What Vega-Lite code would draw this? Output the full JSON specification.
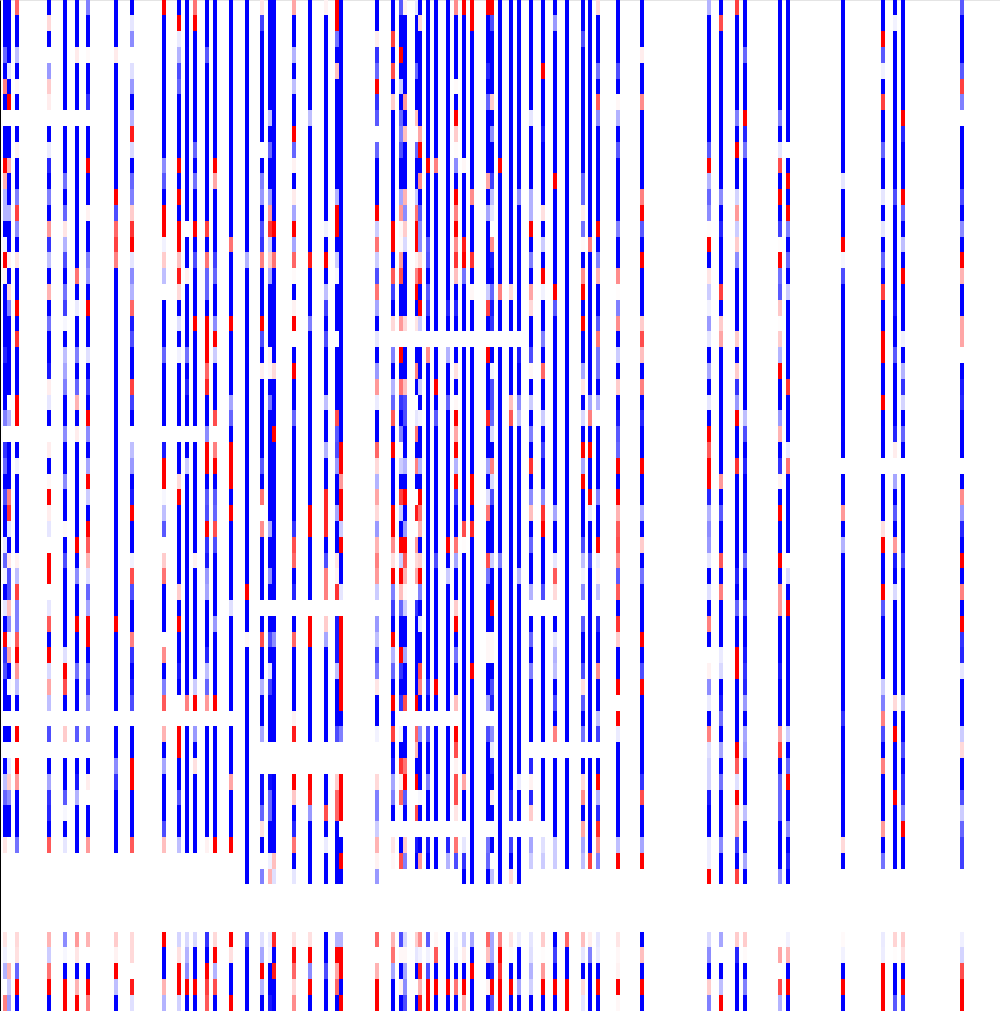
{"$schema":"https://vega.github.io/schema/vega-lite/v6.json","width":1000,"height":1011,"autosize":{"type":"fit","contains":"padding"},"padding":0,"background":"white","config":{"view":{"stroke":"#e4e4e4"}},
"data":{"values":[
{"c":1,"r":0,"e":3,"v":-1},{"c":1,"r":3,"e":4,"v":-0.6},{"c":1,"r":4,"e":5,"v":-1},{"c":1,"r":5,"e":6,"v":0.5},{"c":1,"r":6,"e":7,"v":-1},{"c":1,"r":8,"e":10,"v":-1},{"c":1,"r":10,"e":11,"v":1},{"c":1,"r":11,"e":12,"v":0.3},{"c":1,"r":12,"e":14,"v":-0.3},{"c":1,"r":14,"e":15,"v":-1},{"c":1,"r":15,"e":16,"v":-0.05},{"c":1,"r":16,"e":17,"v":1},{"c":1,"r":17,"e":18,"v":0.05},{"c":1,"r":18,"e":22,"v":-1},{"c":1,"r":22,"e":23,"v":-0.85},{"c":1,"r":23,"e":26,"v":-1},{"c":1,"r":26,"e":27,"v":-0.5},{"c":1,"r":28,"e":29,"v":-0.8},{"c":1,"r":29,"e":30,"v":-0.6},{"c":1,"r":30,"e":31,"v":-1},{"c":1,"r":31,"e":32,"v":-0.7},{"c":1,"r":32,"e":34,"v":-1},{"c":1,"r":34,"e":35,"v":-0.1},{"c":1,"r":35,"e":36,"v":-0.6},{"c":1,"r":36,"e":37,"v":-0.05},{"c":1,"r":37,"e":38,"v":-1},{"c":1,"r":38,"e":39,"v":-0.1},{"c":1,"r":39,"e":40,"v":-1},{"c":1,"r":40,"e":41,"v":1},{"c":1,"r":41,"e":42,"v":-0.8},{"c":1,"r":42,"e":43,"v":-0.7},{"c":1,"r":43,"e":45,"v":-1},{"c":1,"r":46,"e":47,"v":-1},{"c":1,"r":48,"e":49,"v":-1},{"c":1,"r":49,"e":50,"v":-0.25},{"c":1,"r":50,"e":51,"v":-0.6},{"c":1,"r":51,"e":53,"v":-1},{"c":1,"r":53,"e":54,"v":0.1},{"c":1,"r":59,"e":60,"v":0.1},{"c":1,"r":60,"e":61,"v":-0.05},{"c":1,"r":61,"e":62,"v":-0.3},{"c":1,"r":63,"e":64,"v":0.5},
{"c":2,"r":0,"e":4,"v":-1},{"c":2,"r":4,"e":5,"v":-0.1},{"c":2,"r":5,"e":6,"v":-1},{"c":2,"r":6,"e":7,"v":1},{"c":2,"r":8,"e":10,"v":-1},{"c":2,"r":10,"e":11,"v":0.3},{"c":2,"r":11,"e":13,"v":-1},{"c":2,"r":13,"e":14,"v":-0.3},{"c":2,"r":14,"e":16,"v":-1},{"c":2,"r":16,"e":17,"v":0.05},{"c":2,"r":17,"e":18,"v":-1},{"c":2,"r":18,"e":19,"v":0.15},{"c":2,"r":19,"e":20,"v":-0.5},{"c":2,"r":20,"e":25,"v":-1},{"c":2,"r":26,"e":27,"v":-0.3},{"c":2,"r":28,"e":31,"v":-1},{"c":2,"r":31,"e":32,"v":0.5},{"c":2,"r":32,"e":33,"v":0.8},{"c":2,"r":33,"e":34,"v":-0.1},{"c":2,"r":34,"e":35,"v":-1},{"c":2,"r":35,"e":36,"v":0.1},{"c":2,"r":36,"e":38,"v":-0.7},{"c":2,"r":38,"e":39,"v":0.25},{"c":2,"r":39,"e":40,"v":-0.45},{"c":2,"r":40,"e":41,"v":-0.03},{"c":2,"r":41,"e":42,"v":0.35},{"c":2,"r":42,"e":43,"v":-1},{"c":2,"r":43,"e":44,"v":-0.03},{"c":2,"r":44,"e":45,"v":-1},{"c":2,"r":46,"e":47,"v":-1},{"c":2,"r":48,"e":49,"v":-0.1},{"c":2,"r":49,"e":50,"v":0.2},{"c":2,"r":50,"e":51,"v":-0.45},{"c":2,"r":51,"e":53,"v":-1},{"c":2,"r":61,"e":62,"v":0.3},{"c":2,"r":62,"e":63,"v":-0.2},{"c":2,"r":63,"e":64,"v":-0.4},
{"c":4,"r":0,"e":1,"v":0.6},{"c":4,"r":1,"e":3,"v":-1},{"c":4,"r":3,"e":4,"v":-0.25},{"c":4,"r":4,"e":5,"v":-1},{"c":4,"r":5,"e":6,"v":0.03},{"c":4,"r":6,"e":7,"v":-1},{"c":4,"r":8,"e":9,"v":-1},{"c":4,"r":9,"e":10,"v":0.05},{"c":4,"r":10,"e":12,"v":-1},{"c":4,"r":12,"e":13,"v":-0.5},{"c":4,"r":13,"e":14,"v":0.75},{"c":4,"r":14,"e":15,"v":-0.45},{"c":4,"r":15,"e":16,"v":-1},{"c":4,"r":16,"e":17,"v":0.1},{"c":4,"r":17,"e":19,"v":-1},{"c":4,"r":19,"e":20,"v":1},{"c":4,"r":20,"e":21,"v":-1},{"c":4,"r":21,"e":22,"v":0.8},{"c":4,"r":22,"e":25,"v":-1},{"c":4,"r":25,"e":27,"v":1},{"c":4,"r":28,"e":29,"v":-1},{"c":4,"r":29,"e":30,"v":-0.05},{"c":4,"r":30,"e":35,"v":-1},{"c":4,"r":35,"e":36,"v":0.05},{"c":4,"r":36,"e":37,"v":-0.25},{"c":4,"r":37,"e":38,"v":0.75},{"c":4,"r":38,"e":40,"v":-0.5},{"c":4,"r":40,"e":41,"v":0.65},{"c":4,"r":41,"e":42,"v":1},{"c":4,"r":42,"e":43,"v":0.4},{"c":4,"r":43,"e":44,"v":-0.25},{"c":4,"r":44,"e":45,"v":-1},{"c":4,"r":46,"e":47,"v":1},{"c":4,"r":48,"e":49,"v":1},{"c":4,"r":49,"e":50,"v":0.4},{"c":4,"r":50,"e":53,"v":-1},{"c":4,"r":53,"e":54,"v":-0.55},{"c":4,"r":59,"e":60,"v":0.15},{"c":4,"r":60,"e":61,"v":0.12},{"c":4,"r":61,"e":62,"v":-0.6},{"c":4,"r":62,"e":63,"v":1},{"c":4,"r":63,"e":64,"v":-1},
{"c":12,"r":0,"e":1,"v":-1},{"c":12,"r":1,"e":2,"v":0.15},{"c":12,"r":2,"e":3,"v":-1},{"c":12,"r":4,"e":5,"v":-0.4},{"c":12,"r":5,"e":6,"v":0.2},{"c":12,"r":6,"e":7,"v":0.07},{"c":12,"r":8,"e":9,"v":-1},{"c":12,"r":9,"e":10,"v":-0.08},{"c":12,"r":10,"e":11,"v":-0.85},{"c":12,"r":11,"e":12,"v":-1},{"c":12,"r":12,"e":13,"v":-0.5},{"c":12,"r":13,"e":14,"v":-1},{"c":12,"r":14,"e":15,"v":0.4},{"c":12,"r":15,"e":16,"v":-0.8},{"c":12,"r":16,"e":17,"v":-0.25},{"c":12,"r":17,"e":18,"v":-1},{"c":12,"r":18,"e":19,"v":0.3},{"c":12,"r":19,"e":20,"v":-1},{"c":12,"r":20,"e":21,"v":-0.55},{"c":12,"r":21,"e":23,"v":-1},{"c":12,"r":23,"e":24,"v":-0.9},{"c":12,"r":24,"e":25,"v":0.07},{"c":12,"r":25,"e":26,"v":-0.1},{"c":12,"r":26,"e":27,"v":-1},{"c":12,"r":28,"e":29,"v":0.07},{"c":12,"r":29,"e":30,"v":-1},{"c":12,"r":30,"e":31,"v":0.03},{"c":12,"r":31,"e":32,"v":1},{"c":12,"r":32,"e":33,"v":0.07},{"c":12,"r":33,"e":34,"v":-0.1},{"c":12,"r":35,"e":37,"v":1},{"c":12,"r":38,"e":39,"v":-0.1},{"c":12,"r":39,"e":40,"v":0.65},{"c":12,"r":40,"e":41,"v":-1},{"c":12,"r":41,"e":42,"v":1},{"c":12,"r":42,"e":43,"v":-0.15},{"c":12,"r":43,"e":44,"v":0.35},{"c":12,"r":44,"e":45,"v":-0.25},{"c":12,"r":46,"e":47,"v":-0.7},{"c":12,"r":48,"e":49,"v":-1},{"c":12,"r":49,"e":50,"v":-0.35},{"c":12,"r":50,"e":51,"v":-0.8},{"c":12,"r":51,"e":52,"v":-0.85},{"c":12,"r":52,"e":53,"v":-1},{"c":12,"r":53,"e":54,"v":0.65},{"c":12,"r":59,"e":60,"v":0.3},{"c":12,"r":60,"e":61,"v":-0.2},{"c":12,"r":61,"e":62,"v":0.55},{"c":12,"r":62,"e":63,"v":1},{"c":12,"r":63,"e":64,"v":-1},
{"c":16,"r":0,"e":7,"v":-1},{"c":16,"r":8,"e":11,"v":-1},{"c":16,"r":11,"e":12,"v":-0.55},{"c":16,"r":12,"e":13,"v":-1},{"c":16,"r":13,"e":14,"v":-0.6},{"c":16,"r":14,"e":15,"v":0.1},{"c":16,"r":15,"e":16,"v":-0.3},{"c":16,"r":16,"e":17,"v":-0.7},{"c":16,"r":17,"e":18,"v":-1},{"c":16,"r":18,"e":19,"v":-0.55},{"c":16,"r":19,"e":20,"v":-0.75},{"c":16,"r":20,"e":21,"v":-0.03},{"c":16,"r":21,"e":22,"v":-1},{"c":16,"r":22,"e":23,"v":-0.25},{"c":16,"r":23,"e":24,"v":-0.35},{"c":16,"r":24,"e":25,"v":-0.5},{"c":16,"r":25,"e":27,"v":-1},{"c":16,"r":27,"e":28,"v":-0.45},{"c":16,"r":28,"e":30,"v":-1},{"c":16,"r":30,"e":31,"v":-0.45},{"c":16,"r":31,"e":33,"v":-1},{"c":16,"r":33,"e":34,"v":0.02},{"c":16,"r":34,"e":35,"v":-1},{"c":16,"r":35,"e":36,"v":-0.7},{"c":16,"r":36,"e":41,"v":-1},{"c":16,"r":41,"e":42,"v":-0.12},{"c":16,"r":42,"e":43,"v":1},{"c":16,"r":43,"e":44,"v":0.7},{"c":16,"r":44,"e":45,"v":-1},{"c":16,"r":46,"e":47,"v":0.2},{"c":16,"r":48,"e":50,"v":-1},{"c":16,"r":50,"e":51,"v":-0.65},{"c":16,"r":51,"e":52,"v":-0.03},{"c":16,"r":52,"e":53,"v":-1},{"c":16,"r":53,"e":54,"v":-0.1},{"c":16,"r":59,"e":60,"v":-0.45},{"c":16,"r":60,"e":61,"v":-0.03},{"c":16,"r":61,"e":62,"v":-1},{"c":16,"r":62,"e":64,"v":1},
{"c":19,"r":0,"e":3,"v":-1},{"c":19,"r":3,"e":4,"v":0.08},{"c":19,"r":4,"e":7,"v":-1},{"c":19,"r":8,"e":17,"v":-1},{"c":19,"r":17,"e":18,"v":0.55},{"c":19,"r":18,"e":19,"v":-1},{"c":19,"r":19,"e":20,"v":-0.08},{"c":19,"r":20,"e":22,"v":-1},{"c":19,"r":22,"e":23,"v":-0.5},{"c":19,"r":23,"e":24,"v":-1},{"c":19,"r":24,"e":25,"v":-0.6},{"c":19,"r":25,"e":26,"v":0.3},{"c":19,"r":26,"e":27,"v":-1},{"c":19,"r":27,"e":28,"v":0.07},{"c":19,"r":28,"e":34,"v":-1},{"c":19,"r":34,"e":35,"v":1},{"c":19,"r":35,"e":36,"v":-1},{"c":19,"r":36,"e":37,"v":-0.45},{"c":19,"r":37,"e":39,"v":-1},{"c":19,"r":39,"e":40,"v":1},{"c":19,"r":40,"e":42,"v":-1},{"c":19,"r":42,"e":43,"v":-0.55},{"c":19,"r":43,"e":45,"v":-1},{"c":19,"r":46,"e":47,"v":-0.65},{"c":19,"r":48,"e":49,"v":-1},{"c":19,"r":49,"e":50,"v":-0.9},{"c":19,"r":50,"e":51,"v":-0.3},{"c":19,"r":51,"e":54,"v":-1},{"c":19,"r":59,"e":60,"v":0.4},{"c":19,"r":60,"e":61,"v":0.1},{"c":19,"r":61,"e":62,"v":-1},{"c":19,"r":62,"e":63,"v":0.3},{"c":19,"r":63,"e":64,"v":1},
{"c":22,"r":0,"e":1,"v":-0.5},{"c":22,"r":1,"e":3,"v":-1},{"c":22,"r":3,"e":4,"v":0.02},{"c":22,"r":4,"e":6,"v":-1},{"c":22,"r":6,"e":7,"v":-0.8},{"c":22,"r":8,"e":10,"v":-1},{"c":22,"r":10,"e":11,"v":1},{"c":22,"r":11,"e":13,"v":-1},{"c":22,"r":13,"e":14,"v":0.05},{"c":22,"r":14,"e":16,"v":-1},{"c":22,"r":16,"e":17,"v":-0.5},{"c":22,"r":17,"e":18,"v":-0.4},{"c":22,"r":18,"e":19,"v":-1},{"c":22,"r":19,"e":20,"v":1},{"c":22,"r":20,"e":22,"v":-1},{"c":22,"r":22,"e":23,"v":-0.12},{"c":22,"r":23,"e":24,"v":-1},{"c":22,"r":24,"e":25,"v":-0.75},{"c":22,"r":25,"e":26,"v":-1},{"c":22,"r":26,"e":27,"v":1},{"c":22,"r":27,"e":28,"v":-0.45},{"c":22,"r":28,"e":29,"v":-1},{"c":22,"r":29,"e":30,"v":-0.35},{"c":22,"r":30,"e":31,"v":1},{"c":22,"r":31,"e":32,"v":-0.2},{"c":22,"r":32,"e":33,"v":-1},{"c":22,"r":33,"e":34,"v":1},{"c":22,"r":34,"e":35,"v":0.65},{"c":22,"r":35,"e":36,"v":0.3},{"c":22,"r":36,"e":37,"v":-0.12},{"c":22,"r":37,"e":38,"v":-0.6},{"c":22,"r":38,"e":39,"v":-0.35},{"c":22,"r":39,"e":41,"v":1},{"c":22,"r":41,"e":42,"v":-1},{"c":22,"r":42,"e":43,"v":-0.6},{"c":22,"r":43,"e":44,"v":-0.75},{"c":22,"r":44,"e":45,"v":-0.4},{"c":22,"r":46,"e":47,"v":-0.5},{"c":22,"r":48,"e":49,"v":-1},{"c":22,"r":49,"e":50,"v":0.07},{"c":22,"r":51,"e":53,"v":-1},{"c":22,"r":53,"e":54,"v":0.4},{"c":22,"r":59,"e":60,"v":0.3},{"c":22,"r":61,"e":62,"v":-1},{"c":22,"r":62,"e":63,"v":1},{"c":22,"r":63,"e":64,"v":0.5},
{"c":29,"r":0,"e":3,"v":-1},{"c":29,"r":3,"e":4,"v":0.08},{"c":29,"r":4,"e":12,"v":-1},{"c":29,"r":12,"e":13,"v":1},{"c":29,"r":13,"e":14,"v":-0.7},{"c":29,"r":14,"e":15,"v":0.6},{"c":29,"r":15,"e":16,"v":0.75},{"c":29,"r":16,"e":17,"v":0.5},{"c":29,"r":17,"e":39,"v":-1},{"c":29,"r":39,"e":40,"v":1},{"c":29,"r":40,"e":45,"v":-1},{"c":29,"r":46,"e":48,"v":-1},{"c":29,"r":48,"e":49,"v":-0.45},{"c":29,"r":49,"e":50,"v":-0.8},{"c":29,"r":50,"e":54,"v":-1},{"c":29,"r":59,"e":60,"v":0.2},{"c":29,"r":60,"e":61,"v":0.05},{"c":29,"r":61,"e":62,"v":1},{"c":29,"r":62,"e":63,"v":-0.25},{"c":29,"r":63,"e":64,"v":-1},
{"c":33,"r":0,"e":1,"v":-1},{"c":33,"r":1,"e":2,"v":-0.1},{"c":33,"r":2,"e":3,"v":-0.45},{"c":33,"r":4,"e":5,"v":-0.12},{"c":33,"r":5,"e":6,"v":-0.4},{"c":33,"r":6,"e":7,"v":-1},{"c":33,"r":7,"e":8,"v":-0.3},{"c":33,"r":8,"e":9,"v":0.9},{"c":33,"r":9,"e":10,"v":-0.15},{"c":33,"r":10,"e":11,"v":-1},{"c":33,"r":11,"e":12,"v":-0.6},{"c":33,"r":12,"e":13,"v":-0.5},{"c":33,"r":13,"e":14,"v":0.2},{"c":33,"r":14,"e":15,"v":0.8},{"c":33,"r":15,"e":16,"v":1},{"c":33,"r":16,"e":17,"v":-0.1},{"c":33,"r":17,"e":18,"v":-0.45},{"c":33,"r":18,"e":19,"v":-0.3},{"c":33,"r":19,"e":20,"v":0.6},{"c":33,"r":20,"e":21,"v":-0.9},{"c":33,"r":21,"e":22,"v":-0.7},{"c":33,"r":22,"e":24,"v":-1},{"c":33,"r":24,"e":25,"v":0.75},{"c":33,"r":25,"e":26,"v":-0.75},{"c":33,"r":26,"e":27,"v":-1},{"c":33,"r":28,"e":29,"v":-0.25},{"c":33,"r":29,"e":30,"v":-0.4},{"c":33,"r":30,"e":31,"v":-1},{"c":33,"r":31,"e":32,"v":-0.9},{"c":33,"r":32,"e":33,"v":1},{"c":33,"r":33,"e":35,"v":-1},{"c":33,"r":35,"e":36,"v":-0.05},{"c":33,"r":36,"e":37,"v":0.7},{"c":33,"r":37,"e":38,"v":-0.7},{"c":33,"r":38,"e":40,"v":-1},{"c":33,"r":40,"e":41,"v":0.5},{"c":33,"r":41,"e":42,"v":-0.8},{"c":33,"r":42,"e":43,"v":-1},{"c":33,"r":43,"e":44,"v":-0.9},{"c":33,"r":44,"e":45,"v":-0.7},{"c":33,"r":46,"e":48,"v":-1},{"c":33,"r":48,"e":50,"v":1},{"c":33,"r":50,"e":53,"v":-1},{"c":33,"r":53,"e":54,"v":0.65},{"c":33,"r":59,"e":61,"v":0.15},{"c":33,"r":62,"e":63,"v":0.9},{"c":33,"r":63,"e":64,"v":-0.12},
{"c":41,"r":0,"e":1,"v":1},{"c":41,"r":1,"e":10,"v":-1},{"c":41,"r":10,"e":11,"v":-0.45},{"c":41,"r":11,"e":12,"v":-0.65},{"c":41,"r":12,"e":13,"v":-1},{"c":41,"r":13,"e":15,"v":1},{"c":41,"r":15,"e":16,"v":-0.05},{"c":41,"r":16,"e":17,"v":0.2},{"c":41,"r":17,"e":18,"v":-0.25},{"c":41,"r":19,"e":22,"v":-1},{"c":41,"r":22,"e":23,"v":-0.6},{"c":41,"r":23,"e":27,"v":-1},{"c":41,"r":28,"e":29,"v":-0.9},{"c":41,"r":29,"e":31,"v":1},{"c":41,"r":31,"e":32,"v":-0.03},{"c":41,"r":32,"e":33,"v":-0.25},{"c":41,"r":33,"e":34,"v":-0.65},{"c":41,"r":35,"e":36,"v":0.2},{"c":41,"r":36,"e":37,"v":0.55},{"c":41,"r":37,"e":40,"v":-1},{"c":41,"r":41,"e":42,"v":0.45},{"c":41,"r":42,"e":43,"v":-1},{"c":41,"r":43,"e":44,"v":-0.5},{"c":41,"r":44,"e":45,"v":0.65},{"c":41,"r":46,"e":47,"v":0.3},{"c":41,"r":47,"e":48,"v":-1},{"c":41,"r":48,"e":49,"v":-0.35},{"c":41,"r":49,"e":52,"v":-1},{"c":41,"r":52,"e":53,"v":-0.7},{"c":41,"r":53,"e":54,"v":0.25},{"c":41,"r":59,"e":60,"v":1},{"c":41,"r":60,"e":62,"v":-1},{"c":41,"r":62,"e":63,"v":0.3},{"c":41,"r":63,"e":64,"v":-0.3},
{"c":45,"r":0,"e":1,"v":-1},{"c":45,"r":1,"e":2,"v":1},{"c":45,"r":2,"e":3,"v":-0.08},{"c":45,"r":3,"e":4,"v":-0.3},{"c":45,"r":4,"e":5,"v":-0.7},{"c":45,"r":5,"e":6,"v":-0.6},{"c":45,"r":6,"e":10,"v":-1},{"c":45,"r":10,"e":11,"v":1},{"c":45,"r":11,"e":12,"v":-1},{"c":45,"r":12,"e":13,"v":1},{"c":45,"r":13,"e":14,"v":-1},{"c":45,"r":14,"e":16,"v":1},{"c":45,"r":16,"e":17,"v":0.25},{"c":45,"r":17,"e":18,"v":0.9},{"c":45,"r":18,"e":19,"v":0.15},{"c":45,"r":19,"e":20,"v":-1},{"c":45,"r":20,"e":21,"v":-0.12},{"c":45,"r":21,"e":22,"v":-1},{"c":45,"r":22,"e":23,"v":-0.05},{"c":45,"r":23,"e":27,"v":-1},{"c":45,"r":28,"e":30,"v":-1},{"c":45,"r":30,"e":31,"v":0.15},{"c":45,"r":31,"e":32,"v":1},{"c":45,"r":32,"e":37,"v":-1},{"c":45,"r":37,"e":38,"v":0.2},{"c":45,"r":38,"e":39,"v":-1},{"c":45,"r":39,"e":40,"v":1},{"c":45,"r":40,"e":42,"v":-1},{"c":45,"r":42,"e":43,"v":-0.9},{"c":45,"r":43,"e":44,"v":-1},{"c":45,"r":46,"e":48,"v":1},{"c":45,"r":48,"e":50,"v":-1},{"c":45,"r":50,"e":51,"v":-0.65},{"c":45,"r":51,"e":53,"v":-1},{"c":45,"r":53,"e":54,"v":-0.25},{"c":45,"r":59,"e":60,"v":-0.17},{"c":45,"r":60,"e":61,"v":0.12},{"c":45,"r":61,"e":63,"v":1},{"c":45,"r":63,"e":64,"v":-0.18},
{"c":47,"r":0,"e":14,"v":-1},{"c":47,"r":15,"e":17,"v":-1},{"c":47,"r":17,"e":18,"v":0.05},{"c":47,"r":18,"e":22,"v":-1},{"c":47,"r":22,"e":23,"v":-0.55},{"c":47,"r":23,"e":24,"v":-1},{"c":47,"r":24,"e":25,"v":-0.85},{"c":47,"r":25,"e":27,"v":-1},{"c":47,"r":28,"e":29,"v":-1},{"c":47,"r":29,"e":30,"v":-0.2},{"c":47,"r":30,"e":44,"v":-1},{"c":47,"r":44,"e":45,"v":0.5},{"c":47,"r":46,"e":54,"v":-1},{"c":47,"r":59,"e":60,"v":-0.15},{"c":47,"r":60,"e":61,"v":-0.3},{"c":47,"r":61,"e":62,"v":-0.45},{"c":47,"r":62,"e":63,"v":1},{"c":47,"r":63,"e":64,"v":-1},
{"c":49,"r":0,"e":1,"v":0.55},{"c":49,"r":1,"e":2,"v":1},{"c":49,"r":2,"e":9,"v":-1},{"c":49,"r":9,"e":10,"v":-0.6},{"c":49,"r":10,"e":11,"v":-1},{"c":49,"r":11,"e":12,"v":-0.55},{"c":49,"r":12,"e":14,"v":-1},{"c":49,"r":14,"e":15,"v":1},{"c":49,"r":15,"e":16,"v":-1},{"c":49,"r":16,"e":17,"v":-0.7},{"c":49,"r":17,"e":20,"v":-1},{"c":49,"r":20,"e":21,"v":1},{"c":49,"r":21,"e":27,"v":-1},{"c":49,"r":28,"e":35,"v":-1},{"c":49,"r":35,"e":36,"v":0.05},{"c":49,"r":36,"e":43,"v":-1},{"c":49,"r":43,"e":44,"v":-0.2},{"c":49,"r":44,"e":45,"v":1},{"c":49,"r":46,"e":47,"v":-0.4},{"c":49,"r":47,"e":48,"v":-1},{"c":49,"r":48,"e":49,"v":0.12},{"c":49,"r":49,"e":54,"v":-1},{"c":49,"r":59,"e":60,"v":-0.15},{"c":49,"r":60,"e":62,"v":-1},{"c":49,"r":62,"e":63,"v":1},{"c":49,"r":63,"e":64,"v":-1},
{"c":52,"r":0,"e":3,"v":-1},{"c":52,"r":3,"e":4,"v":-0.65},{"c":52,"r":4,"e":14,"v":-1},{"c":52,"r":14,"e":15,"v":0.75},{"c":52,"r":15,"e":16,"v":-1},{"c":52,"r":16,"e":17,"v":0.55},{"c":52,"r":17,"e":19,"v":-0.6},{"c":52,"r":19,"e":20,"v":-1},{"c":52,"r":20,"e":23,"v":1},{"c":52,"r":23,"e":24,"v":0.6},{"c":52,"r":24,"e":25,"v":0.85},{"c":52,"r":25,"e":27,"v":-1},{"c":52,"r":27,"e":28,"v":-0.45},{"c":52,"r":28,"e":30,"v":1},{"c":52,"r":30,"e":31,"v":-1},{"c":52,"r":31,"e":32,"v":-0.65},{"c":52,"r":32,"e":33,"v":-0.7},{"c":52,"r":33,"e":34,"v":1},{"c":52,"r":34,"e":35,"v":-0.8},{"c":52,"r":35,"e":36,"v":-0.9},{"c":52,"r":36,"e":37,"v":-0.4},{"c":52,"r":37,"e":38,"v":-0.35},{"c":52,"r":38,"e":41,"v":-1},{"c":52,"r":41,"e":42,"v":-0.85},{"c":52,"r":42,"e":43,"v":-0.25},{"c":52,"r":43,"e":44,"v":-0.6},{"c":52,"r":44,"e":45,"v":0.4},{"c":52,"r":46,"e":53,"v":-1},{"c":52,"r":53,"e":54,"v":0.05},{"c":52,"r":59,"e":60,"v":-0.8},{"c":52,"r":60,"e":61,"v":-1},{"c":52,"r":61,"e":62,"v":1},{"c":52,"r":62,"e":63,"v":0.75},{"c":52,"r":63,"e":64,"v":0.65},
{"c":54,"r":0,"e":10,"v":-1},{"c":54,"r":10,"e":11,"v":1},{"c":54,"r":11,"e":12,"v":0.35},{"c":54,"r":12,"e":16,"v":-1},{"c":54,"r":16,"e":17,"v":-0.75},{"c":54,"r":17,"e":18,"v":-0.6},{"c":54,"r":18,"e":20,"v":-1},{"c":54,"r":20,"e":21,"v":-0.45},{"c":54,"r":21,"e":22,"v":1},{"c":54,"r":22,"e":23,"v":-0.2},{"c":54,"r":23,"e":26,"v":-1},{"c":54,"r":26,"e":27,"v":0.7},{"c":54,"r":28,"e":29,"v":0.5},{"c":54,"r":29,"e":30,"v":1},{"c":54,"r":30,"e":31,"v":-1},{"c":54,"r":31,"e":32,"v":-0.65},{"c":54,"r":32,"e":33,"v":-0.6},{"c":54,"r":33,"e":34,"v":0.7},{"c":54,"r":34,"e":35,"v":-0.7},{"c":54,"r":35,"e":39,"v":-1},{"c":54,"r":39,"e":40,"v":-0.4},{"c":54,"r":40,"e":44,"v":-1},{"c":54,"r":44,"e":45,"v":1},{"c":54,"r":46,"e":53,"v":-1},{"c":54,"r":53,"e":54,"v":1},{"c":54,"r":59,"e":60,"v":0.15},{"c":54,"r":60,"e":61,"v":1},{"c":54,"r":61,"e":62,"v":-0.3},{"c":54,"r":62,"e":63,"v":0.7},{"c":54,"r":63,"e":64,"v":-1},
{"c":58,"r":0,"e":15,"v":-1},{"c":58,"r":15,"e":16,"v":0.55},{"c":58,"r":16,"e":20,"v":-1},{"c":58,"r":20,"e":21,"v":1},{"c":58,"r":21,"e":25,"v":-1},{"c":58,"r":25,"e":26,"v":-0.35},{"c":58,"r":26,"e":27,"v":-0.6},{"c":58,"r":27,"e":28,"v":-1},{"c":58,"r":28,"e":31,"v":1},{"c":58,"r":31,"e":32,"v":-1},{"c":58,"r":32,"e":33,"v":1},{"c":58,"r":33,"e":38,"v":-1},{"c":58,"r":38,"e":39,"v":-0.12},{"c":58,"r":39,"e":45,"v":-1},{"c":58,"r":46,"e":49,"v":-1},{"c":58,"r":49,"e":50,"v":0.35},{"c":58,"r":50,"e":53,"v":-1},{"c":58,"r":53,"e":54,"v":1},{"c":58,"r":59,"e":60,"v":1},{"c":58,"r":60,"e":61,"v":0.12},{"c":58,"r":61,"e":63,"v":-1},{"c":58,"r":63,"e":64,"v":1},
{"c":62,"r":0,"e":16,"v":-1},{"c":62,"r":16,"e":17,"v":-0.3},{"c":62,"r":17,"e":37,"v":-1},{"c":62,"r":37,"e":38,"v":1},{"c":62,"r":38,"e":40,"v":-1},{"c":62,"r":40,"e":41,"v":0.03},{"c":62,"r":41,"e":56,"v":-1},{"c":62,"r":59,"e":60,"v":-0.65},{"c":62,"r":60,"e":64,"v":-1},
{"c":66,"r":0,"e":1,"v":0.1},{"c":66,"r":1,"e":2,"v":-0.75},{"c":66,"r":2,"e":9,"v":-1},{"c":66,"r":10,"e":11,"v":-1},{"c":66,"r":11,"e":12,"v":-0.5},{"c":66,"r":12,"e":13,"v":-0.4},{"c":66,"r":13,"e":14,"v":-1},{"c":66,"r":14,"e":15,"v":-0.7},{"c":66,"r":15,"e":16,"v":-0.8},{"c":66,"r":16,"e":17,"v":0.5},{"c":66,"r":17,"e":20,"v":-1},{"c":66,"r":20,"e":21,"v":1},{"c":66,"r":21,"e":22,"v":-0.7},{"c":66,"r":22,"e":23,"v":-1},{"c":66,"r":23,"e":24,"v":0.06},{"c":66,"r":24,"e":29,"v":-1},{"c":66,"r":29,"e":30,"v":-0.65},{"c":66,"r":30,"e":31,"v":-1},{"c":66,"r":31,"e":32,"v":0.55},{"c":66,"r":33,"e":34,"v":0.45},{"c":66,"r":34,"e":38,"v":-1},{"c":66,"r":39,"e":40,"v":-1},{"c":66,"r":40,"e":41,"v":0.7},{"c":66,"r":41,"e":43,"v":-1},{"c":66,"r":43,"e":44,"v":-0.3},{"c":66,"r":44,"e":46,"v":-1},{"c":66,"r":46,"e":47,"v":-0.35},{"c":66,"r":49,"e":51,"v":-0.95},{"c":66,"r":51,"e":52,"v":-0.6},{"c":66,"r":52,"e":53,"v":0.12},{"c":66,"r":53,"e":54,"v":-1},{"c":66,"r":55,"e":56,"v":-0.5},{"c":66,"r":59,"e":60,"v":-0.12},{"c":66,"r":60,"e":61,"v":-0.35},{"c":66,"r":61,"e":62,"v":1},{"c":66,"r":62,"e":63,"v":-0.3},{"c":66,"r":63,"e":64,"v":-1},
{"c":68,"r":0,"e":7,"v":-1},{"c":68,"r":7,"e":8,"v":-0.25},{"c":68,"r":8,"e":9,"v":-1},{"c":68,"r":9,"e":10,"v":-0.6},{"c":68,"r":10,"e":12,"v":-1},{"c":68,"r":12,"e":13,"v":-0.4},{"c":68,"r":13,"e":14,"v":0.4},{"c":68,"r":14,"e":15,"v":0.8},{"c":68,"r":15,"e":16,"v":-0.2},{"c":68,"r":16,"e":17,"v":0.2},{"c":68,"r":17,"e":18,"v":-0.35},{"c":68,"r":18,"e":22,"v":-1},{"c":68,"r":22,"e":23,"v":0.05},{"c":68,"r":23,"e":24,"v":0.03},{"c":68,"r":24,"e":25,"v":-1},{"c":68,"r":25,"e":26,"v":-0.55},{"c":68,"r":26,"e":33,"v":-1},{"c":68,"r":33,"e":34,"v":-0.35},{"c":68,"r":34,"e":36,"v":-1},{"c":68,"r":36,"e":37,"v":-0.45},{"c":68,"r":37,"e":38,"v":-1},{"c":68,"r":39,"e":40,"v":-1},{"c":68,"r":40,"e":41,"v":-0.7},{"c":68,"r":41,"e":42,"v":-1},{"c":68,"r":42,"e":43,"v":-0.12},{"c":68,"r":43,"e":44,"v":-0.75},{"c":68,"r":44,"e":47,"v":-1},{"c":68,"r":49,"e":50,"v":-0.95},{"c":68,"r":50,"e":52,"v":-0.6},{"c":68,"r":52,"e":54,"v":-1},{"c":68,"r":54,"e":55,"v":-0.06},{"c":68,"r":55,"e":56,"v":0.3},{"c":68,"r":59,"e":60,"v":-0.08},{"c":68,"r":60,"e":61,"v":-0.05},{"c":68,"r":61,"e":63,"v":-1},{"c":68,"r":63,"e":64,"v":-0.9},
{"c":69,"r":0,"e":14,"v":-1},{"c":69,"r":14,"e":15,"v":1},{"c":69,"r":15,"e":16,"v":-1},{"c":69,"r":16,"e":17,"v":0.55},{"c":69,"r":17,"e":23,"v":-1},{"c":69,"r":23,"e":24,"v":0.15},{"c":69,"r":24,"e":27,"v":-1},{"c":69,"r":27,"e":28,"v":1},{"c":69,"r":28,"e":38,"v":-1},{"c":69,"r":39,"e":40,"v":-1},{"c":69,"r":40,"e":41,"v":-0.45},{"c":69,"r":41,"e":47,"v":-1},{"c":69,"r":49,"e":54,"v":-1},{"c":69,"r":54,"e":55,"v":0.25},{"c":69,"r":55,"e":56,"v":-0.12},{"c":69,"r":59,"e":60,"v":0.85},{"c":69,"r":60,"e":61,"v":-1},{"c":69,"r":61,"e":62,"v":0.9},{"c":69,"r":62,"e":64,"v":-1},
{"c":74,"r":0,"e":1,"v":0.35},{"c":74,"r":1,"e":3,"v":-1},{"c":74,"r":3,"e":4,"v":-0.3},{"c":74,"r":4,"e":5,"v":-1},{"c":74,"r":5,"e":6,"v":-0.25},{"c":74,"r":6,"e":8,"v":-1},{"c":74,"r":8,"e":9,"v":1},{"c":74,"r":9,"e":10,"v":-0.6},{"c":74,"r":10,"e":11,"v":0.05},{"c":74,"r":11,"e":12,"v":-1},{"c":74,"r":12,"e":13,"v":0.08},{"c":74,"r":13,"e":14,"v":-0.35},{"c":74,"r":14,"e":15,"v":1},{"c":74,"r":15,"e":16,"v":-0.35},{"c":74,"r":16,"e":17,"v":0.6},{"c":74,"r":17,"e":18,"v":0.02},{"c":74,"r":18,"e":19,"v":-1},{"c":74,"r":19,"e":20,"v":0.05},{"c":74,"r":20,"e":21,"v":1},{"c":74,"r":22,"e":23,"v":-1},{"c":74,"r":23,"e":24,"v":1},{"c":74,"r":24,"e":26,"v":-1},{"c":74,"r":26,"e":27,"v":-0.6},{"c":74,"r":27,"e":33,"v":-1},{"c":74,"r":33,"e":34,"v":-0.8},{"c":74,"r":34,"e":35,"v":0.7},{"c":74,"r":35,"e":36,"v":0.6},{"c":74,"r":36,"e":37,"v":-1},{"c":74,"r":37,"e":38,"v":-0.85},{"c":74,"r":39,"e":40,"v":-1},{"c":74,"r":40,"e":41,"v":0.6},{"c":74,"r":41,"e":45,"v":-1},{"c":74,"r":45,"e":46,"v":0.05},{"c":74,"r":46,"e":47,"v":0.9},{"c":74,"r":49,"e":50,"v":1},{"c":74,"r":50,"e":51,"v":0.22},{"c":74,"r":51,"e":52,"v":-1},{"c":74,"r":52,"e":53,"v":-0.85},{"c":74,"r":53,"e":54,"v":0.55},{"c":74,"r":54,"e":55,"v":-1},{"c":74,"r":55,"e":56,"v":-0.1},{"c":74,"r":59,"e":60,"v":0.12},{"c":74,"r":60,"e":61,"v":0.95},{"c":74,"r":61,"e":62,"v":0.6},{"c":74,"r":62,"e":63,"v":0.15},{"c":74,"r":63,"e":64,"v":0.45},
{"c":78,"r":0,"e":7,"v":-1},{"c":78,"r":7,"e":8,"v":-0.25},{"c":78,"r":8,"e":16,"v":-1},{"c":78,"r":16,"e":17,"v":0.9},{"c":78,"r":17,"e":20,"v":-1},{"c":78,"r":20,"e":21,"v":-0.5},{"c":78,"r":21,"e":32,"v":-1},{"c":78,"r":32,"e":34,"v":1},{"c":78,"r":34,"e":38,"v":-1},{"c":78,"r":39,"e":41,"v":1},{"c":78,"r":41,"e":47,"v":-1},{"c":78,"r":49,"e":50,"v":1},{"c":78,"r":50,"e":51,"v":0.9},{"c":78,"r":51,"e":52,"v":-0.4},{"c":78,"r":52,"e":56,"v":-1},{"c":78,"r":59,"e":60,"v":0.12},{"c":78,"r":60,"e":61,"v":1},{"c":78,"r":61,"e":62,"v":-0.45},{"c":78,"r":62,"e":63,"v":1},{"c":78,"r":63,"e":64,"v":-1},
{"c":82,"r":0,"e":1,"v":0.05},{"c":82,"r":1,"e":14,"v":-1},{"c":82,"r":14,"e":15,"v":-0.05},{"c":82,"r":15,"e":16,"v":-1},{"c":82,"r":16,"e":17,"v":1},{"c":82,"r":17,"e":18,"v":-1},{"c":82,"r":18,"e":19,"v":-0.25},{"c":82,"r":19,"e":20,"v":-0.75},{"c":82,"r":20,"e":21,"v":-1},{"c":82,"r":21,"e":22,"v":-0.7},{"c":82,"r":22,"e":25,"v":-1},{"c":82,"r":25,"e":26,"v":-0.25},{"c":82,"r":26,"e":28,"v":-1},{"c":82,"r":28,"e":29,"v":-0.3},{"c":82,"r":29,"e":31,"v":-1},{"c":82,"r":31,"e":34,"v":0.85},{"c":82,"r":34,"e":35,"v":-1},{"c":82,"r":35,"e":36,"v":-0.7},{"c":82,"r":36,"e":38,"v":0.5},{"c":82,"r":39,"e":40,"v":0.2},{"c":82,"r":40,"e":41,"v":-0.35},{"c":82,"r":41,"e":47,"v":-1},{"c":82,"r":49,"e":51,"v":-1},{"c":82,"r":51,"e":52,"v":0.7},{"c":82,"r":52,"e":53,"v":-1},{"c":82,"r":53,"e":54,"v":-0.08},{"c":82,"r":54,"e":56,"v":-1},{"c":82,"r":59,"e":61,"v":-1},{"c":82,"r":61,"e":62,"v":-0.7},{"c":82,"r":62,"e":64,"v":-1},
{"c":85,"r":0,"e":2,"v":1},{"c":85,"r":2,"e":3,"v":-0.55},{"c":85,"r":3,"e":4,"v":-1},{"c":85,"r":4,"e":5,"v":0.25},{"c":85,"r":5,"e":12,"v":-1},{"c":85,"r":12,"e":13,"v":-0.3},{"c":85,"r":13,"e":15,"v":1},{"c":85,"r":15,"e":16,"v":-1},{"c":85,"r":16,"e":17,"v":-0.2},{"c":85,"r":17,"e":18,"v":-0.03},{"c":85,"r":18,"e":21,"v":-1},{"c":85,"r":22,"e":26,"v":-1},{"c":85,"r":26,"e":27,"v":0.7},{"c":85,"r":27,"e":28,"v":-0.65},{"c":85,"r":28,"e":29,"v":-0.7},{"c":85,"r":29,"e":30,"v":-0.4},{"c":85,"r":30,"e":32,"v":-1},{"c":85,"r":32,"e":33,"v":-0.35},{"c":85,"r":33,"e":35,"v":-1},{"c":85,"r":35,"e":36,"v":0.1},{"c":85,"r":36,"e":37,"v":0.05},{"c":85,"r":37,"e":38,"v":0.8},{"c":85,"r":39,"e":42,"v":-0.9},{"c":85,"r":42,"e":43,"v":-0.25},{"c":85,"r":43,"e":46,"v":-1},{"c":85,"r":46,"e":47,"v":-0.7},{"c":85,"r":49,"e":50,"v":0.2},{"c":85,"r":50,"e":52,"v":0.6},{"c":85,"r":52,"e":56,"v":-1},{"c":85,"r":59,"e":60,"v":-0.3},{"c":85,"r":60,"e":61,"v":1},{"c":85,"r":61,"e":62,"v":0.35},{"c":85,"r":62,"e":63,"v":0.6},{"c":85,"r":63,"e":64,"v":-1},
{"c":86,"r":0,"e":28,"v":-1},{"c":86,"r":28,"e":30,"v":1},{"c":86,"r":30,"e":31,"v":0.4},{"c":86,"r":31,"e":33,"v":1},{"c":86,"r":33,"e":34,"v":-0.2},{"c":86,"r":34,"e":35,"v":1},{"c":86,"r":35,"e":37,"v":-1},{"c":86,"r":37,"e":38,"v":-0.1},{"c":86,"r":39,"e":45,"v":1},{"c":86,"r":45,"e":46,"v":-1},{"c":86,"r":46,"e":47,"v":-0.5},{"c":86,"r":49,"e":52,"v":1},{"c":86,"r":53,"e":54,"v":-1},{"c":86,"r":54,"e":55,"v":1},{"c":86,"r":55,"e":56,"v":-1},{"c":86,"r":59,"e":60,"v":-0.3},{"c":86,"r":60,"e":62,"v":1},{"c":86,"r":62,"e":63,"v":-1},{"c":86,"r":63,"e":64,"v":1},
{"c":95,"r":0,"e":2,"v":-1},{"c":95,"r":2,"e":3,"v":0.07},{"c":95,"r":3,"e":4,"v":-0.8},{"c":95,"r":4,"e":5,"v":-0.6},{"c":95,"r":5,"e":6,"v":1},{"c":95,"r":6,"e":7,"v":-0.8},{"c":95,"r":7,"e":8,"v":-0.65},{"c":95,"r":9,"e":10,"v":-0.6},{"c":95,"r":10,"e":13,"v":-1},{"c":95,"r":13,"e":14,"v":1},{"c":95,"r":14,"e":15,"v":-0.2},{"c":95,"r":15,"e":16,"v":0.55},{"c":95,"r":16,"e":17,"v":-0.2},{"c":95,"r":17,"e":18,"v":-0.7},{"c":95,"r":18,"e":19,"v":0.55},{"c":95,"r":19,"e":20,"v":-0.35},{"c":95,"r":20,"e":21,"v":-1},{"c":95,"r":21,"e":22,"v":-0.1},{"c":95,"r":22,"e":23,"v":-1},{"c":95,"r":23,"e":24,"v":-0.4},{"c":95,"r":24,"e":25,"v":0.4},{"c":95,"r":25,"e":26,"v":-0.08},{"c":95,"r":26,"e":28,"v":-1},{"c":95,"r":28,"e":29,"v":0.6},{"c":95,"r":29,"e":30,"v":0.15},{"c":95,"r":30,"e":31,"v":-0.3},{"c":95,"r":31,"e":32,"v":0.35},{"c":95,"r":32,"e":33,"v":0.15},{"c":95,"r":33,"e":34,"v":-0.4},{"c":95,"r":34,"e":35,"v":0.3},{"c":95,"r":35,"e":36,"v":0.5},{"c":95,"r":36,"e":37,"v":0.4},{"c":95,"r":37,"e":38,"v":-0.2},{"c":95,"r":39,"e":40,"v":-0.4},{"c":95,"r":40,"e":41,"v":-0.25},{"c":95,"r":41,"e":42,"v":-0.75},{"c":95,"r":42,"e":43,"v":-0.5},{"c":95,"r":43,"e":44,"v":0.1},{"c":95,"r":44,"e":46,"v":-1},{"c":95,"r":46,"e":47,"v":-0.05},{"c":95,"r":49,"e":50,"v":0.15},{"c":95,"r":50,"e":52,"v":-0.5},{"c":95,"r":52,"e":53,"v":-0.2},{"c":95,"r":53,"e":54,"v":0.3},{"c":95,"r":54,"e":55,"v":0.05},{"c":95,"r":55,"e":56,"v":-0.4},{"c":95,"r":59,"e":60,"v":0.6},{"c":95,"r":61,"e":62,"v":0.3},{"c":95,"r":62,"e":64,"v":1},
{"c":99,"r":0,"e":2,"v":-1},{"c":99,"r":2,"e":3,"v":0.75},{"c":99,"r":3,"e":4,"v":-1},{"c":99,"r":4,"e":5,"v":0.7},{"c":99,"r":5,"e":6,"v":-1},{"c":99,"r":6,"e":7,"v":0.2},{"c":99,"r":7,"e":14,"v":-1},{"c":99,"r":14,"e":16,"v":1},{"c":99,"r":16,"e":17,"v":-1},{"c":99,"r":17,"e":18,"v":0.65},{"c":99,"r":18,"e":19,"v":-0.75},{"c":99,"r":19,"e":20,"v":-1},{"c":99,"r":20,"e":21,"v":0.15},{"c":99,"r":22,"e":23,"v":-0.5},{"c":99,"r":23,"e":24,"v":-1},{"c":99,"r":24,"e":25,"v":-0.3},{"c":99,"r":25,"e":26,"v":-0.6},{"c":99,"r":26,"e":27,"v":0.65},{"c":99,"r":27,"e":28,"v":-1},{"c":99,"r":28,"e":29,"v":1},{"c":99,"r":29,"e":32,"v":-1},{"c":99,"r":32,"e":34,"v":1},{"c":99,"r":34,"e":35,"v":0.45},{"c":99,"r":35,"e":36,"v":0.12},{"c":99,"r":36,"e":37,"v":1},{"c":99,"r":37,"e":38,"v":-0.5},{"c":99,"r":38,"e":39,"v":-0.75},{"c":99,"r":39,"e":40,"v":-1},{"c":99,"r":40,"e":41,"v":1},{"c":99,"r":41,"e":42,"v":-0.3},{"c":99,"r":42,"e":43,"v":-0.6},{"c":99,"r":43,"e":44,"v":-1},{"c":99,"r":44,"e":45,"v":1},{"c":99,"r":45,"e":46,"v":-1},{"c":99,"r":46,"e":47,"v":0.75},{"c":99,"r":47,"e":48,"v":-1},{"c":99,"r":48,"e":49,"v":-0.9},{"c":99,"r":49,"e":50,"v":-0.35},{"c":99,"r":50,"e":51,"v":-0.5},{"c":99,"r":51,"e":52,"v":-1},{"c":99,"r":53,"e":54,"v":0.1},{"c":99,"r":54,"e":55,"v":0.03},{"c":99,"r":59,"e":60,"v":0.3},{"c":99,"r":60,"e":61,"v":0.55},{"c":99,"r":61,"e":62,"v":-0.35},{"c":99,"r":62,"e":64,"v":-1},
{"c":101,"r":0,"e":1,"v":-0.65},{"c":101,"r":1,"e":3,"v":-1},{"c":101,"r":3,"e":4,"v":1},{"c":101,"r":4,"e":5,"v":-1},{"c":101,"r":5,"e":6,"v":-0.2},{"c":101,"r":6,"e":7,"v":-1},{"c":101,"r":7,"e":8,"v":-0.6},{"c":101,"r":8,"e":9,"v":-0.5},{"c":101,"r":9,"e":10,"v":-0.7},{"c":101,"r":10,"e":12,"v":-1},{"c":101,"r":12,"e":13,"v":-0.35},{"c":101,"r":13,"e":14,"v":0.4},{"c":101,"r":14,"e":15,"v":0.03},{"c":101,"r":15,"e":16,"v":0.02},{"c":101,"r":16,"e":17,"v":0.4},{"c":101,"r":17,"e":18,"v":0.7},{"c":101,"r":18,"e":20,"v":-1},{"c":101,"r":20,"e":21,"v":0.4},{"c":101,"r":22,"e":23,"v":1},{"c":101,"r":23,"e":24,"v":-1},{"c":101,"r":24,"e":25,"v":0.55},{"c":101,"r":25,"e":26,"v":-0.8},{"c":101,"r":26,"e":27,"v":-1},{"c":101,"r":27,"e":28,"v":-0.5},{"c":101,"r":28,"e":29,"v":0.02},{"c":101,"r":29,"e":30,"v":-0.2},{"c":101,"r":30,"e":31,"v":-1},{"c":101,"r":31,"e":32,"v":0.75},{"c":101,"r":32,"e":33,"v":-0.2},{"c":101,"r":33,"e":34,"v":-1},{"c":101,"r":34,"e":35,"v":1},{"c":101,"r":35,"e":36,"v":-0.2},{"c":101,"r":36,"e":37,"v":1},{"c":101,"r":37,"e":38,"v":0.25},{"c":101,"r":38,"e":39,"v":-0.6},{"c":101,"r":39,"e":41,"v":-1},{"c":101,"r":41,"e":42,"v":1},{"c":101,"r":42,"e":43,"v":-0.8},{"c":101,"r":43,"e":44,"v":-1},{"c":101,"r":44,"e":45,"v":-0.8},{"c":101,"r":46,"e":47,"v":-0.05},{"c":101,"r":47,"e":48,"v":-1},{"c":101,"r":48,"e":49,"v":0.8},{"c":101,"r":49,"e":50,"v":0.07},{"c":101,"r":50,"e":51,"v":0.6},{"c":101,"r":51,"e":52,"v":0.02},{"c":101,"r":53,"e":54,"v":-1},{"c":101,"r":54,"e":55,"v":0.7},{"c":101,"r":59,"e":60,"v":-0.7},{"c":101,"r":60,"e":61,"v":0.03},{"c":101,"r":61,"e":62,"v":-1},{"c":101,"r":62,"e":63,"v":0.05},{"c":101,"r":63,"e":64,"v":-1},
{"c":102,"r":0,"e":1,"v":0.05},{"c":102,"r":1,"e":6,"v":-1},{"c":102,"r":6,"e":7,"v":0.4},{"c":102,"r":7,"e":8,"v":-1},{"c":102,"r":8,"e":9,"v":0.25},{"c":102,"r":9,"e":12,"v":-1},{"c":102,"r":12,"e":13,"v":0.3},{"c":102,"r":13,"e":14,"v":-0.45},{"c":102,"r":14,"e":15,"v":0.2},{"c":102,"r":15,"e":16,"v":-0.15},{"c":102,"r":16,"e":20,"v":-1},{"c":102,"r":20,"e":21,"v":0.15},{"c":102,"r":22,"e":24,"v":-1},{"c":102,"r":24,"e":25,"v":0.25},{"c":102,"r":25,"e":27,"v":-0.7},{"c":102,"r":27,"e":29,"v":-1},{"c":102,"r":29,"e":30,"v":-0.3},{"c":102,"r":30,"e":31,"v":-1},{"c":102,"r":31,"e":32,"v":1},{"c":102,"r":32,"e":33,"v":-1},{"c":102,"r":33,"e":34,"v":-0.4},{"c":102,"r":34,"e":35,"v":1},{"c":102,"r":35,"e":36,"v":0.65},{"c":102,"r":36,"e":37,"v":0.3},{"c":102,"r":37,"e":38,"v":0.02},{"c":102,"r":38,"e":39,"v":-0.2},{"c":102,"r":39,"e":41,"v":-1},{"c":102,"r":41,"e":42,"v":-0.35},{"c":102,"r":42,"e":44,"v":-1},{"c":102,"r":44,"e":45,"v":0.7},{"c":102,"r":46,"e":48,"v":-1},{"c":102,"r":48,"e":49,"v":0.55},{"c":102,"r":49,"e":50,"v":1},{"c":102,"r":50,"e":51,"v":-0.65},{"c":102,"r":51,"e":52,"v":-1},{"c":102,"r":53,"e":54,"v":0.2},{"c":102,"r":54,"e":55,"v":-0.5},{"c":102,"r":59,"e":60,"v":-0.15},{"c":102,"r":60,"e":61,"v":0.03},{"c":102,"r":61,"e":62,"v":-0.35},{"c":102,"r":62,"e":63,"v":-0.45},{"c":102,"r":63,"e":64,"v":-0.7},
{"c":105,"r":0,"e":1,"v":-0.1},{"c":105,"r":1,"e":4,"v":-1},{"c":105,"r":4,"e":5,"v":-0.6},{"c":105,"r":5,"e":7,"v":-1},{"c":105,"r":7,"e":8,"v":0.25},{"c":105,"r":9,"e":10,"v":-0.6},{"c":105,"r":10,"e":12,"v":-1},{"c":105,"r":12,"e":13,"v":-0.2},{"c":105,"r":13,"e":14,"v":0.55},{"c":105,"r":14,"e":16,"v":1},{"c":105,"r":16,"e":17,"v":0.05},{"c":105,"r":17,"e":18,"v":0.5},{"c":105,"r":18,"e":19,"v":1},{"c":105,"r":19,"e":20,"v":-1},{"c":105,"r":20,"e":21,"v":0.1},{"c":105,"r":22,"e":23,"v":-1},{"c":105,"r":23,"e":24,"v":0.5},{"c":105,"r":24,"e":25,"v":-1},{"c":105,"r":26,"e":27,"v":-0.1},{"c":105,"r":27,"e":28,"v":0.55},{"c":105,"r":28,"e":29,"v":-1},{"c":105,"r":29,"e":30,"v":0.5},{"c":105,"r":30,"e":31,"v":-1},{"c":105,"r":32,"e":33,"v":0.9},{"c":105,"r":34,"e":35,"v":0.4},{"c":105,"r":35,"e":36,"v":0.15},{"c":105,"r":36,"e":37,"v":0.35},{"c":105,"r":38,"e":39,"v":-0.8},{"c":105,"r":39,"e":44,"v":-1},{"c":105,"r":44,"e":45,"v":1},{"c":105,"r":46,"e":47,"v":0.6},{"c":105,"r":47,"e":48,"v":0.3},{"c":105,"r":48,"e":49,"v":-1},{"c":105,"r":49,"e":50,"v":1},{"c":105,"r":51,"e":52,"v":0.7},{"c":105,"r":53,"e":54,"v":-0.9},{"c":105,"r":54,"e":55,"v":-1},{"c":105,"r":59,"e":60,"v":0.2},{"c":105,"r":60,"e":61,"v":-0.1},{"c":105,"r":61,"e":62,"v":-1},{"c":105,"r":63,"e":64,"v":-1},
{"c":106,"r":0,"e":1,"v":-1},{"c":106,"r":1,"e":2,"v":0.15},{"c":106,"r":2,"e":8,"v":-1},{"c":106,"r":8,"e":9,"v":0.35},{"c":106,"r":9,"e":10,"v":1},{"c":106,"r":10,"e":11,"v":-1},{"c":106,"r":11,"e":12,"v":0.45},{"c":106,"r":12,"e":13,"v":-1},{"c":106,"r":13,"e":14,"v":-0.65},{"c":106,"r":14,"e":16,"v":-0.45},{"c":106,"r":16,"e":17,"v":0.15},{"c":106,"r":17,"e":18,"v":0.8},{"c":106,"r":18,"e":19,"v":-1},{"c":106,"r":19,"e":20,"v":1},{"c":106,"r":20,"e":21,"v":-0.2},{"c":106,"r":22,"e":24,"v":-1},{"c":106,"r":24,"e":25,"v":-0.2},{"c":106,"r":25,"e":26,"v":-1},{"c":106,"r":26,"e":27,"v":-0.05},{"c":106,"r":27,"e":29,"v":-1},{"c":106,"r":29,"e":30,"v":-0.3},{"c":106,"r":30,"e":31,"v":-1},{"c":106,"r":31,"e":32,"v":1},{"c":106,"r":32,"e":33,"v":0.55},{"c":106,"r":33,"e":34,"v":0.3},{"c":106,"r":34,"e":35,"v":-1},{"c":106,"r":35,"e":36,"v":0.2},{"c":106,"r":36,"e":37,"v":1},{"c":106,"r":37,"e":38,"v":-0.5},{"c":106,"r":38,"e":39,"v":-1},{"c":106,"r":39,"e":40,"v":-0.1},{"c":106,"r":40,"e":42,"v":-1},{"c":106,"r":42,"e":43,"v":0.7},{"c":106,"r":43,"e":44,"v":0.5},{"c":106,"r":44,"e":45,"v":-1},{"c":106,"r":46,"e":47,"v":-0.45},{"c":106,"r":47,"e":50,"v":-1},{"c":106,"r":50,"e":51,"v":-0.03},{"c":106,"r":51,"e":52,"v":-1},{"c":106,"r":53,"e":54,"v":-1},{"c":106,"r":54,"e":55,"v":0.4},{"c":106,"r":59,"e":60,"v":0.45},{"c":106,"r":60,"e":61,"v":-0.05},{"c":106,"r":61,"e":62,"v":0.85},{"c":106,"r":62,"e":63,"v":0.3},{"c":106,"r":63,"e":64,"v":0.9},
{"c":108,"r":0,"e":10,"v":-1},{"c":108,"r":10,"e":11,"v":1},{"c":108,"r":11,"e":15,"v":-1},{"c":108,"r":15,"e":16,"v":-0.65},{"c":108,"r":16,"e":17,"v":-0.7},{"c":108,"r":17,"e":18,"v":-1},{"c":108,"r":18,"e":19,"v":-0.65},{"c":108,"r":19,"e":20,"v":-0.75},{"c":108,"r":20,"e":21,"v":-1},{"c":108,"r":22,"e":23,"v":0.45},{"c":108,"r":23,"e":43,"v":-1},{"c":108,"r":43,"e":44,"v":-0.8},{"c":108,"r":44,"e":45,"v":-1},{"c":108,"r":46,"e":47,"v":-0.7},{"c":108,"r":47,"e":49,"v":-1},{"c":108,"r":49,"e":50,"v":-0.5},{"c":108,"r":50,"e":52,"v":-1},{"c":108,"r":53,"e":54,"v":-0.9},{"c":108,"r":54,"e":55,"v":-1},{"c":108,"r":59,"e":60,"v":-0.65},{"c":108,"r":60,"e":61,"v":-0.05},{"c":108,"r":61,"e":62,"v":-0.7},{"c":108,"r":62,"e":64,"v":1},
{"c":110,"r":0,"e":10,"v":-1},{"c":110,"r":10,"e":11,"v":0.5},{"c":110,"r":11,"e":21,"v":-1},{"c":110,"r":22,"e":24,"v":-1},{"c":110,"r":24,"e":25,"v":1},{"c":110,"r":25,"e":26,"v":-1},{"c":110,"r":26,"e":27,"v":-0.65},{"c":110,"r":27,"e":35,"v":-1},{"c":110,"r":35,"e":36,"v":-0.7},{"c":110,"r":36,"e":43,"v":-1},{"c":110,"r":43,"e":44,"v":1},{"c":110,"r":44,"e":45,"v":-1},{"c":110,"r":46,"e":52,"v":-1},{"c":110,"r":53,"e":55,"v":-1},{"c":110,"r":59,"e":60,"v":0.03},{"c":110,"r":60,"e":61,"v":0.65},{"c":110,"r":61,"e":62,"v":-1},{"c":110,"r":62,"e":63,"v":1},{"c":110,"r":63,"e":64,"v":-1},
{"c":113,"r":0,"e":19,"v":-1},{"c":113,"r":19,"e":20,"v":-0.85},{"c":113,"r":20,"e":21,"v":-1},{"c":113,"r":22,"e":23,"v":-0.3},{"c":113,"r":23,"e":25,"v":-1},{"c":113,"r":25,"e":26,"v":-0.6},{"c":113,"r":26,"e":34,"v":-1},{"c":113,"r":34,"e":35,"v":1},{"c":113,"r":35,"e":36,"v":-1},{"c":113,"r":36,"e":37,"v":-0.2},{"c":113,"r":37,"e":45,"v":-1},{"c":113,"r":46,"e":52,"v":-1},{"c":113,"r":53,"e":54,"v":-0.85},{"c":113,"r":54,"e":55,"v":-0.3},{"c":113,"r":59,"e":62,"v":-1},{"c":113,"r":62,"e":63,"v":1},{"c":113,"r":63,"e":64,"v":-1},
{"c":115,"r":0,"e":1,"v":0.45},{"c":115,"r":1,"e":5,"v":-1},{"c":115,"r":5,"e":6,"v":0.02},{"c":115,"r":6,"e":7,"v":-1},{"c":115,"r":7,"e":8,"v":1},{"c":115,"r":8,"e":9,"v":0.2},{"c":115,"r":9,"e":10,"v":0.02},{"c":115,"r":10,"e":11,"v":-0.45},{"c":115,"r":11,"e":12,"v":-1},{"c":115,"r":12,"e":13,"v":1},{"c":115,"r":13,"e":14,"v":0.5},{"c":115,"r":14,"e":15,"v":1},{"c":115,"r":15,"e":16,"v":0.45},{"c":115,"r":16,"e":17,"v":0.8},{"c":115,"r":17,"e":18,"v":0.25},{"c":115,"r":18,"e":19,"v":-1},{"c":115,"r":19,"e":20,"v":-0.85},{"c":115,"r":20,"e":21,"v":-1},{"c":115,"r":22,"e":23,"v":-1},{"c":115,"r":23,"e":24,"v":0.12},{"c":115,"r":24,"e":25,"v":-1},{"c":115,"r":25,"e":26,"v":0.03},{"c":115,"r":26,"e":27,"v":1},{"c":115,"r":27,"e":28,"v":0.35},{"c":115,"r":28,"e":29,"v":1},{"c":115,"r":29,"e":30,"v":-0.3},{"c":115,"r":30,"e":31,"v":1},{"c":115,"r":31,"e":32,"v":-0.75},{"c":115,"r":32,"e":34,"v":-1},{"c":115,"r":34,"e":35,"v":0.55},{"c":115,"r":35,"e":36,"v":-0.35},{"c":115,"r":36,"e":38,"v":-1},{"c":115,"r":38,"e":39,"v":0.2},{"c":115,"r":39,"e":40,"v":1},{"c":115,"r":40,"e":41,"v":-1},{"c":115,"r":41,"e":42,"v":-0.55},{"c":115,"r":42,"e":44,"v":-1},{"c":115,"r":44,"e":45,"v":0.25},{"c":115,"r":46,"e":47,"v":1},{"c":115,"r":47,"e":48,"v":0.7},{"c":115,"r":48,"e":49,"v":0.05},{"c":115,"r":49,"e":51,"v":0.7},{"c":115,"r":51,"e":52,"v":0.1},{"c":115,"r":53,"e":54,"v":0.55},{"c":115,"r":54,"e":55,"v":-0.7},{"c":115,"r":59,"e":60,"v":-0.05},{"c":115,"r":60,"e":61,"v":-0.07},{"c":115,"r":61,"e":62,"v":-1},{"c":115,"r":62,"e":63,"v":0.55},{"c":115,"r":63,"e":64,"v":-1},
{"c":117,"r":0,"e":1,"v":1},{"c":117,"r":1,"e":10,"v":-1},{"c":117,"r":10,"e":11,"v":0.03},{"c":117,"r":11,"e":15,"v":-1},{"c":117,"r":15,"e":16,"v":0.9},{"c":117,"r":16,"e":17,"v":1},{"c":117,"r":17,"e":18,"v":-0.55},{"c":117,"r":18,"e":21,"v":-1},{"c":117,"r":22,"e":33,"v":-1},{"c":117,"r":33,"e":34,"v":0.7},{"c":117,"r":34,"e":35,"v":0.01},{"c":117,"r":35,"e":49,"v":-1},{"c":117,"r":49,"e":50,"v":0.35},{"c":117,"r":50,"e":52,"v":-1},{"c":117,"r":53,"e":54,"v":-0.1},{"c":117,"r":54,"e":55,"v":-0.8},{"c":117,"r":55,"e":56,"v":-1},{"c":117,"r":59,"e":60,"v":-0.2},{"c":117,"r":60,"e":61,"v":0.08},{"c":117,"r":61,"e":62,"v":-1},{"c":117,"r":62,"e":63,"v":1},{"c":117,"r":63,"e":64,"v":0.3},
{"c":119,"r":0,"e":2,"v":1},{"c":119,"r":2,"e":12,"v":-1},{"c":119,"r":12,"e":13,"v":0.45},{"c":119,"r":13,"e":16,"v":-1},{"c":119,"r":16,"e":17,"v":0.8},{"c":119,"r":17,"e":18,"v":-1},{"c":119,"r":18,"e":19,"v":0.03},{"c":119,"r":19,"e":21,"v":-1},{"c":119,"r":22,"e":30,"v":-1},{"c":119,"r":30,"e":32,"v":1},{"c":119,"r":32,"e":33,"v":-1},{"c":119,"r":33,"e":34,"v":0.85},{"c":119,"r":34,"e":42,"v":-1},{"c":119,"r":42,"e":43,"v":1},{"c":119,"r":43,"e":56,"v":-1},{"c":119,"r":59,"e":60,"v":-0.35},{"c":119,"r":60,"e":61,"v":-1},{"c":119,"r":61,"e":62,"v":1},{"c":119,"r":62,"e":64,"v":-1},
{"c":123,"r":0,"e":1,"v":1},{"c":123,"r":1,"e":4,"v":-1},{"c":123,"r":4,"e":5,"v":-0.85},{"c":123,"r":5,"e":6,"v":-1},{"c":123,"r":6,"e":7,"v":-0.6},{"c":123,"r":7,"e":11,"v":-1},{"c":123,"r":11,"e":12,"v":0.35},{"c":123,"r":12,"e":13,"v":-1},{"c":123,"r":13,"e":14,"v":-0.35},{"c":123,"r":14,"e":18,"v":-1},{"c":123,"r":18,"e":19,"v":-0.2},{"c":123,"r":19,"e":20,"v":0.75},{"c":123,"r":20,"e":21,"v":-1},{"c":123,"r":22,"e":23,"v":1},{"c":123,"r":23,"e":26,"v":-1},{"c":123,"r":26,"e":27,"v":0.85},{"c":123,"r":27,"e":29,"v":-1},{"c":123,"r":29,"e":30,"v":-0.35},{"c":123,"r":30,"e":31,"v":-1},{"c":123,"r":31,"e":32,"v":-0.12},{"c":123,"r":32,"e":33,"v":0.55},{"c":123,"r":33,"e":35,"v":-1},{"c":123,"r":35,"e":36,"v":0.7},{"c":123,"r":36,"e":37,"v":-0.55},{"c":123,"r":37,"e":40,"v":-1},{"c":123,"r":40,"e":42,"v":0.03},{"c":123,"r":42,"e":44,"v":-1},{"c":123,"r":44,"e":45,"v":-0.35},{"c":123,"r":46,"e":47,"v":-0.7},{"c":123,"r":47,"e":52,"v":-1},{"c":123,"r":53,"e":54,"v":-0.55},{"c":123,"r":54,"e":55,"v":-0.6},{"c":123,"r":55,"e":56,"v":-1},{"c":123,"r":59,"e":60,"v":0.6},{"c":123,"r":60,"e":61,"v":0.25},{"c":123,"r":61,"e":62,"v":-1},{"c":123,"r":62,"e":63,"v":0.05},{"c":123,"r":63,"e":64,"v":-1},
{"c":124,"r":0,"e":1,"v":1},{"c":124,"r":1,"e":2,"v":-0.7},{"c":124,"r":2,"e":6,"v":-1},{"c":124,"r":6,"e":7,"v":0.2},{"c":124,"r":7,"e":8,"v":-1},{"c":124,"r":8,"e":9,"v":-0.45},{"c":124,"r":9,"e":11,"v":-1},{"c":124,"r":11,"e":12,"v":-0.75},{"c":124,"r":12,"e":13,"v":-0.25},{"c":124,"r":13,"e":14,"v":-0.1},{"c":124,"r":15,"e":16,"v":0.45},{"c":124,"r":16,"e":17,"v":-0.9},{"c":124,"r":17,"e":18,"v":-1},{"c":124,"r":18,"e":19,"v":-0.6},{"c":124,"r":19,"e":20,"v":-0.9},{"c":124,"r":20,"e":21,"v":-0.8},{"c":124,"r":22,"e":23,"v":-1},{"c":124,"r":23,"e":24,"v":-0.05},{"c":124,"r":24,"e":26,"v":-0.7},{"c":124,"r":26,"e":27,"v":-0.6},{"c":124,"r":27,"e":28,"v":-0.15},{"c":124,"r":28,"e":29,"v":-1},{"c":124,"r":29,"e":30,"v":0.5},{"c":124,"r":30,"e":31,"v":-0.15},{"c":124,"r":31,"e":32,"v":-0.7},{"c":124,"r":32,"e":35,"v":-1},{"c":124,"r":35,"e":36,"v":-0.2},{"c":124,"r":36,"e":38,"v":-1},{"c":124,"r":38,"e":39,"v":1},{"c":124,"r":39,"e":40,"v":-1},{"c":124,"r":40,"e":42,"v":0.03},{"c":124,"r":42,"e":43,"v":-1},{"c":124,"r":43,"e":44,"v":-0.7},{"c":124,"r":44,"e":45,"v":-0.9},{"c":124,"r":46,"e":47,"v":-0.45},{"c":124,"r":47,"e":48,"v":-0.08},{"c":124,"r":48,"e":49,"v":-0.9},{"c":124,"r":49,"e":50,"v":-1},{"c":124,"r":50,"e":51,"v":0.07},{"c":124,"r":51,"e":52,"v":-1},{"c":124,"r":53,"e":54,"v":-1},{"c":124,"r":55,"e":56,"v":-0.25},{"c":124,"r":59,"e":61,"v":-0.35},{"c":124,"r":61,"e":62,"v":-0.9},{"c":124,"r":62,"e":63,"v":1},{"c":124,"r":63,"e":64,"v":-0.65},
{"c":126,"r":0,"e":10,"v":-1},{"c":126,"r":10,"e":11,"v":1},{"c":126,"r":11,"e":18,"v":-1},{"c":126,"r":18,"e":19,"v":0.5},{"c":126,"r":19,"e":21,"v":-1},{"c":126,"r":22,"e":35,"v":-1},{"c":126,"r":35,"e":36,"v":-0.5},{"c":126,"r":36,"e":56,"v":-1},{"c":126,"r":59,"e":60,"v":0.5},{"c":126,"r":60,"e":61,"v":1},{"c":126,"r":61,"e":62,"v":0.8},{"c":126,"r":62,"e":64,"v":1},
{"c":129,"r":0,"e":18,"v":-1},{"c":129,"r":18,"e":19,"v":0.15},{"c":129,"r":19,"e":21,"v":-1},{"c":129,"r":22,"e":25,"v":-1},{"c":129,"r":25,"e":26,"v":0.25},{"c":129,"r":26,"e":27,"v":0.65},{"c":129,"r":27,"e":50,"v":-1},{"c":129,"r":50,"e":52,"v":-0.85},{"c":129,"r":53,"e":54,"v":-0.75},{"c":129,"r":54,"e":55,"v":-1},{"c":129,"r":55,"e":56,"v":0.15},{"c":129,"r":59,"e":60,"v":0.1},{"c":129,"r":60,"e":61,"v":0.02},{"c":129,"r":61,"e":62,"v":-1},{"c":129,"r":62,"e":63,"v":1},{"c":129,"r":63,"e":64,"v":-1},
{"c":131,"r":0,"e":12,"v":-1},{"c":131,"r":12,"e":13,"v":-0.45},{"c":131,"r":13,"e":21,"v":-1},{"c":131,"r":22,"e":23,"v":-0.9},{"c":131,"r":23,"e":25,"v":-1},{"c":131,"r":25,"e":26,"v":-0.45},{"c":131,"r":26,"e":27,"v":-0.25},{"c":131,"r":27,"e":36,"v":-1},{"c":131,"r":36,"e":37,"v":-0.3},{"c":131,"r":37,"e":49,"v":-1},{"c":131,"r":49,"e":50,"v":-0.08},{"c":131,"r":50,"e":52,"v":-1},{"c":131,"r":53,"e":56,"v":-1},{"c":131,"r":59,"e":60,"v":-0.07},{"c":131,"r":60,"e":62,"v":-1},{"c":131,"r":62,"e":63,"v":-0.35},{"c":131,"r":63,"e":64,"v":-1},
{"c":134,"r":0,"e":7,"v":-1},{"c":134,"r":7,"e":8,"v":-0.1},{"c":134,"r":8,"e":12,"v":-1},{"c":134,"r":12,"e":14,"v":-0.3},{"c":134,"r":14,"e":15,"v":1},{"c":134,"r":15,"e":16,"v":-1},{"c":134,"r":16,"e":17,"v":-0.5},{"c":134,"r":17,"e":18,"v":-1},{"c":134,"r":18,"e":19,"v":0.35},{"c":134,"r":19,"e":20,"v":0.15},{"c":134,"r":20,"e":22,"v":-1},{"c":134,"r":22,"e":23,"v":-0.7},{"c":134,"r":23,"e":24,"v":0.03},{"c":134,"r":24,"e":25,"v":-1},{"c":134,"r":25,"e":26,"v":-0.2},{"c":134,"r":26,"e":27,"v":-1},{"c":134,"r":27,"e":28,"v":-0.5},{"c":134,"r":28,"e":29,"v":-1},{"c":134,"r":29,"e":30,"v":0.8},{"c":134,"r":30,"e":31,"v":-1},{"c":134,"r":31,"e":32,"v":-0.45},{"c":134,"r":32,"e":33,"v":0.25},{"c":134,"r":33,"e":34,"v":-1},{"c":134,"r":34,"e":35,"v":-0.6},{"c":134,"r":35,"e":37,"v":-1},{"c":134,"r":37,"e":38,"v":-0.3},{"c":134,"r":39,"e":40,"v":-1},{"c":134,"r":40,"e":41,"v":-0.6},{"c":134,"r":41,"e":42,"v":-1},{"c":134,"r":42,"e":43,"v":-0.5},{"c":134,"r":43,"e":47,"v":-1},{"c":134,"r":48,"e":49,"v":-0.85},{"c":134,"r":49,"e":50,"v":0.05},{"c":134,"r":50,"e":51,"v":-0.85},{"c":134,"r":51,"e":52,"v":0.2},{"c":134,"r":53,"e":54,"v":-0.35},{"c":134,"r":54,"e":55,"v":-0.2},{"c":134,"r":59,"e":60,"v":-0.1},{"c":134,"r":60,"e":61,"v":-0.12},{"c":134,"r":61,"e":62,"v":-0.3},{"c":134,"r":62,"e":63,"v":-0.18},{"c":134,"r":63,"e":64,"v":-1},
{"c":137,"r":0,"e":4,"v":-1},{"c":137,"r":4,"e":5,"v":1},{"c":137,"r":5,"e":8,"v":-1},{"c":137,"r":8,"e":9,"v":-0.9},{"c":137,"r":9,"e":13,"v":-1},{"c":137,"r":13,"e":14,"v":0.12},{"c":137,"r":14,"e":15,"v":-1},{"c":137,"r":15,"e":16,"v":-0.2},{"c":137,"r":16,"e":17,"v":-1},{"c":137,"r":17,"e":18,"v":1},{"c":137,"r":18,"e":19,"v":-0.05},{"c":137,"r":19,"e":21,"v":-1},{"c":137,"r":21,"e":22,"v":-0.5},{"c":137,"r":22,"e":23,"v":-1},{"c":137,"r":23,"e":24,"v":0.6},{"c":137,"r":24,"e":26,"v":-1},{"c":137,"r":26,"e":27,"v":-0.2},{"c":137,"r":27,"e":28,"v":-1},{"c":137,"r":28,"e":29,"v":-0.75},{"c":137,"r":29,"e":31,"v":-1},{"c":137,"r":31,"e":32,"v":-0.45},{"c":137,"r":32,"e":33,"v":0.8},{"c":137,"r":33,"e":34,"v":1},{"c":137,"r":34,"e":37,"v":-1},{"c":137,"r":37,"e":38,"v":-0.7},{"c":137,"r":39,"e":47,"v":-1},{"c":137,"r":48,"e":52,"v":-1},{"c":137,"r":53,"e":54,"v":-0.12},{"c":137,"r":54,"e":55,"v":-0.2},{"c":137,"r":59,"e":60,"v":0.2},{"c":137,"r":60,"e":61,"v":0.01},{"c":137,"r":61,"e":62,"v":0.4},{"c":137,"r":62,"e":63,"v":1},{"c":137,"r":63,"e":64,"v":-1},
{"c":140,"r":0,"e":1,"v":-1},{"c":140,"r":1,"e":2,"v":-0.4},{"c":140,"r":2,"e":11,"v":-1},{"c":140,"r":11,"e":12,"v":1},{"c":140,"r":12,"e":18,"v":-1},{"c":140,"r":18,"e":19,"v":1},{"c":140,"r":19,"e":20,"v":-0.65},{"c":140,"r":20,"e":32,"v":-1},{"c":140,"r":32,"e":33,"v":-0.35},{"c":140,"r":33,"e":35,"v":-1},{"c":140,"r":35,"e":36,"v":-0.1},{"c":140,"r":36,"e":37,"v":0.65},{"c":140,"r":37,"e":38,"v":0.15},{"c":140,"r":39,"e":40,"v":-1},{"c":140,"r":40,"e":41,"v":-0.1},{"c":140,"r":41,"e":42,"v":-0.3},{"c":140,"r":42,"e":43,"v":-0.25},{"c":140,"r":43,"e":44,"v":-1},{"c":140,"r":44,"e":45,"v":-0.7},{"c":140,"r":45,"e":46,"v":-1},{"c":140,"r":46,"e":47,"v":0.5},{"c":140,"r":48,"e":53,"v":-1},{"c":140,"r":53,"e":55,"v":-0.2},{"c":140,"r":59,"e":60,"v":-1},{"c":140,"r":60,"e":61,"v":-0.75},{"c":140,"r":61,"e":62,"v":-1},{"c":140,"r":62,"e":63,"v":1},{"c":140,"r":63,"e":64,"v":-1},
{"c":143,"r":0,"e":47,"v":-1},{"c":143,"r":48,"e":55,"v":-1},{"c":143,"r":59,"e":60,"v":0.6},{"c":143,"r":60,"e":62,"v":-1},{"c":143,"r":62,"e":64,"v":1},
{"c":147,"r":0,"e":2,"v":-1},{"c":147,"r":2,"e":3,"v":-0.7},{"c":147,"r":3,"e":11,"v":-1},{"c":147,"r":11,"e":13,"v":-0.6},{"c":147,"r":13,"e":14,"v":0.07},{"c":147,"r":14,"e":15,"v":-0.55},{"c":147,"r":15,"e":16,"v":0.02},{"c":147,"r":16,"e":17,"v":-1},{"c":147,"r":17,"e":18,"v":0.45},{"c":147,"r":18,"e":19,"v":1},{"c":147,"r":19,"e":20,"v":-1},{"c":147,"r":20,"e":21,"v":1},{"c":147,"r":21,"e":23,"v":-1},{"c":147,"r":23,"e":24,"v":-0.35},{"c":147,"r":24,"e":25,"v":0.1},{"c":147,"r":25,"e":26,"v":-1},{"c":147,"r":26,"e":27,"v":-0.15},{"c":147,"r":27,"e":28,"v":-1},{"c":147,"r":28,"e":29,"v":1},{"c":147,"r":29,"e":30,"v":-0.35},{"c":147,"r":30,"e":31,"v":1},{"c":147,"r":31,"e":34,"v":-1},{"c":147,"r":34,"e":35,"v":-0.7},{"c":147,"r":35,"e":36,"v":-0.25},{"c":147,"r":36,"e":37,"v":-0.05},{"c":147,"r":37,"e":38,"v":-0.45},{"c":147,"r":39,"e":40,"v":-0.65},{"c":147,"r":40,"e":42,"v":-1},{"c":147,"r":42,"e":43,"v":-0.7},{"c":147,"r":43,"e":44,"v":0.12},{"c":147,"r":44,"e":45,"v":-0.65},{"c":147,"r":45,"e":46,"v":-1},{"c":147,"r":46,"e":47,"v":-0.55},{"c":147,"r":48,"e":49,"v":-1},{"c":147,"r":49,"e":50,"v":0.15},{"c":147,"r":50,"e":51,"v":0.45},{"c":147,"r":51,"e":52,"v":-1},{"c":147,"r":52,"e":53,"v":0.35},{"c":147,"r":53,"e":54,"v":-0.35},{"c":147,"r":54,"e":55,"v":-0.25},{"c":147,"r":59,"e":60,"v":0.25},{"c":147,"r":60,"e":61,"v":-0.1},{"c":147,"r":61,"e":62,"v":-1},{"c":147,"r":62,"e":63,"v":0.15},{"c":147,"r":63,"e":64,"v":-0.1},
{"c":149,"r":0,"e":15,"v":-1},{"c":149,"r":15,"e":16,"v":0.5},{"c":149,"r":16,"e":25,"v":-1},{"c":149,"r":25,"e":26,"v":-0.35},{"c":149,"r":26,"e":27,"v":0.5},{"c":149,"r":27,"e":28,"v":-1},{"c":149,"r":28,"e":29,"v":1},{"c":149,"r":29,"e":31,"v":-1},{"c":149,"r":31,"e":32,"v":1},{"c":149,"r":32,"e":33,"v":-0.1},{"c":149,"r":33,"e":35,"v":-1},{"c":149,"r":35,"e":36,"v":-0.7},{"c":149,"r":36,"e":47,"v":-1},{"c":149,"r":48,"e":54,"v":-1},{"c":149,"r":54,"e":55,"v":0.75},{"c":149,"r":59,"e":60,"v":0.07},{"c":149,"r":60,"e":61,"v":-0.5},{"c":149,"r":61,"e":64,"v":-1},
{"c":151,"r":0,"e":1,"v":0.15},{"c":151,"r":1,"e":4,"v":-1},{"c":151,"r":4,"e":5,"v":-0.55},{"c":151,"r":5,"e":6,"v":-1},{"c":151,"r":6,"e":7,"v":0.65},{"c":151,"r":7,"e":8,"v":-0.45},{"c":151,"r":8,"e":14,"v":-1},{"c":151,"r":14,"e":15,"v":1},{"c":151,"r":15,"e":16,"v":-1},{"c":151,"r":16,"e":17,"v":-0.5},{"c":151,"r":17,"e":18,"v":0.3},{"c":151,"r":18,"e":20,"v":-1},{"c":151,"r":20,"e":21,"v":-0.65},{"c":151,"r":21,"e":22,"v":0.55},{"c":151,"r":22,"e":24,"v":-0.55},{"c":151,"r":24,"e":25,"v":-1},{"c":151,"r":25,"e":26,"v":-0.3},{"c":151,"r":27,"e":31,"v":-1},{"c":151,"r":31,"e":32,"v":-0.5},{"c":151,"r":32,"e":34,"v":-1},{"c":151,"r":34,"e":35,"v":1},{"c":151,"r":35,"e":36,"v":-0.07},{"c":151,"r":36,"e":37,"v":0.05},{"c":151,"r":37,"e":38,"v":-0.25},{"c":151,"r":39,"e":40,"v":-0.85},{"c":151,"r":40,"e":42,"v":-1},{"c":151,"r":42,"e":43,"v":0.45},{"c":151,"r":43,"e":45,"v":-1},{"c":151,"r":45,"e":46,"v":-0.25},{"c":151,"r":46,"e":47,"v":-0.75},{"c":151,"r":48,"e":49,"v":-1},{"c":151,"r":49,"e":50,"v":1},{"c":151,"r":50,"e":51,"v":-0.3},{"c":151,"r":51,"e":52,"v":-0.85},{"c":151,"r":52,"e":53,"v":0.85},{"c":151,"r":53,"e":54,"v":0.45},{"c":151,"r":54,"e":55,"v":-0.5},{"c":151,"r":59,"e":60,"v":-0.1},{"c":151,"r":60,"e":61,"v":-0.08},{"c":151,"r":61,"e":62,"v":-1},{"c":151,"r":62,"e":63,"v":1},{"c":151,"r":63,"e":64,"v":-1},
{"c":156,"r":0,"e":4,"v":-1},{"c":156,"r":4,"e":5,"v":-0.7},{"c":156,"r":5,"e":6,"v":-1},{"c":156,"r":6,"e":7,"v":0.03},{"c":156,"r":7,"e":8,"v":-0.3},{"c":156,"r":8,"e":9,"v":-1},{"c":156,"r":9,"e":10,"v":-0.65},{"c":156,"r":10,"e":14,"v":-1},{"c":156,"r":14,"e":15,"v":-0.5},{"c":156,"r":15,"e":17,"v":-1},{"c":156,"r":17,"e":18,"v":0.45},{"c":156,"r":18,"e":19,"v":0.01},{"c":156,"r":19,"e":20,"v":-0.5},{"c":156,"r":20,"e":21,"v":0.45},{"c":156,"r":21,"e":22,"v":-1},{"c":156,"r":22,"e":23,"v":-0.2},{"c":156,"r":23,"e":24,"v":-1},{"c":156,"r":24,"e":25,"v":0.2},{"c":156,"r":25,"e":26,"v":-1},{"c":156,"r":26,"e":27,"v":-0.9},{"c":156,"r":27,"e":28,"v":-0.65},{"c":156,"r":28,"e":29,"v":-0.6},{"c":156,"r":29,"e":30,"v":1},{"c":156,"r":30,"e":31,"v":-1},{"c":156,"r":31,"e":32,"v":1},{"c":156,"r":32,"e":33,"v":0.3},{"c":156,"r":33,"e":34,"v":0.65},{"c":156,"r":34,"e":35,"v":0.7},{"c":156,"r":35,"e":36,"v":0.45},{"c":156,"r":36,"e":37,"v":-0.65},{"c":156,"r":37,"e":38,"v":0.65},{"c":156,"r":38,"e":39,"v":-1},{"c":156,"r":39,"e":40,"v":0.8},{"c":156,"r":40,"e":41,"v":0.2},{"c":156,"r":41,"e":43,"v":-1},{"c":156,"r":43,"e":44,"v":1},{"c":156,"r":45,"e":46,"v":1},{"c":156,"r":46,"e":47,"v":-0.08},{"c":156,"r":47,"e":53,"v":-1},{"c":156,"r":53,"e":54,"v":-0.25},{"c":156,"r":54,"e":55,"v":1},{"c":156,"r":59,"e":60,"v":0.1},{"c":156,"r":60,"e":61,"v":0.03},{"c":156,"r":61,"e":62,"v":0.05},{"c":156,"r":62,"e":63,"v":1},{"c":156,"r":63,"e":64,"v":0.03},
{"c":162,"r":0,"e":3,"v":-1},{"c":162,"r":3,"e":4,"v":0.07},{"c":162,"r":4,"e":6,"v":-1},{"c":162,"r":6,"e":7,"v":0.45},{"c":162,"r":7,"e":12,"v":-1},{"c":162,"r":12,"e":13,"v":0.5},{"c":162,"r":13,"e":14,"v":1},{"c":162,"r":14,"e":15,"v":-0.65},{"c":162,"r":15,"e":16,"v":-1},{"c":162,"r":16,"e":17,"v":1},{"c":162,"r":17,"e":20,"v":-1},{"c":162,"r":20,"e":21,"v":0.2},{"c":162,"r":21,"e":22,"v":0.7},{"c":162,"r":22,"e":23,"v":0.25},{"c":162,"r":23,"e":24,"v":-1},{"c":162,"r":24,"e":25,"v":0.5},{"c":162,"r":25,"e":26,"v":-1},{"c":162,"r":26,"e":27,"v":-0.85},{"c":162,"r":27,"e":29,"v":-1},{"c":162,"r":29,"e":30,"v":1},{"c":162,"r":30,"e":32,"v":-1},{"c":162,"r":32,"e":33,"v":-0.3},{"c":162,"r":33,"e":34,"v":-1},{"c":162,"r":34,"e":35,"v":0.2},{"c":162,"r":35,"e":36,"v":-1},{"c":162,"r":36,"e":37,"v":-0.55},{"c":162,"r":37,"e":40,"v":-1},{"c":162,"r":40,"e":41,"v":1},{"c":162,"r":41,"e":42,"v":-1},{"c":162,"r":42,"e":43,"v":-0.7},{"c":162,"r":43,"e":44,"v":1},{"c":162,"r":44,"e":49,"v":-1},{"c":162,"r":49,"e":50,"v":-0.8},{"c":162,"r":50,"e":51,"v":0.7},{"c":162,"r":51,"e":53,"v":-1},{"c":162,"r":53,"e":54,"v":-0.35},{"c":162,"r":54,"e":55,"v":1},{"c":162,"r":59,"e":60,"v":-1},{"c":162,"r":60,"e":61,"v":0.25},{"c":162,"r":61,"e":62,"v":-1},{"c":162,"r":62,"e":63,"v":1},{"c":162,"r":63,"e":64,"v":-1},
{"c":179,"r":0,"e":1,"v":-0.3},{"c":179,"r":1,"e":9,"v":-1},{"c":179,"r":9,"e":10,"v":-0.65},{"c":179,"r":10,"e":11,"v":1},{"c":179,"r":11,"e":12,"v":-0.3},{"c":179,"r":12,"e":13,"v":-0.6},{"c":179,"r":13,"e":14,"v":-0.45},{"c":179,"r":14,"e":15,"v":0.01},{"c":179,"r":15,"e":16,"v":1},{"c":179,"r":16,"e":17,"v":-1},{"c":179,"r":17,"e":18,"v":0.1},{"c":179,"r":18,"e":19,"v":-0.2},{"c":179,"r":19,"e":20,"v":-0.05},{"c":179,"r":20,"e":21,"v":-0.4},{"c":179,"r":21,"e":22,"v":-0.1},{"c":179,"r":22,"e":23,"v":-1},{"c":179,"r":23,"e":24,"v":-0.35},{"c":179,"r":24,"e":25,"v":-1},{"c":179,"r":25,"e":26,"v":-0.1},{"c":179,"r":26,"e":27,"v":-1},{"c":179,"r":27,"e":28,"v":1},{"c":179,"r":28,"e":29,"v":0.65},{"c":179,"r":29,"e":31,"v":1},{"c":179,"r":31,"e":32,"v":-0.85},{"c":179,"r":32,"e":33,"v":-0.3},{"c":179,"r":33,"e":34,"v":-0.45},{"c":179,"r":34,"e":35,"v":-0.4},{"c":179,"r":35,"e":36,"v":-0.1},{"c":179,"r":36,"e":37,"v":-1},{"c":179,"r":37,"e":38,"v":-0.12},{"c":179,"r":38,"e":39,"v":-1},{"c":179,"r":39,"e":40,"v":0.5},{"c":179,"r":40,"e":41,"v":-1},{"c":179,"r":42,"e":43,"v":0.05},{"c":179,"r":43,"e":44,"v":-0.45},{"c":179,"r":44,"e":45,"v":-0.08},{"c":179,"r":45,"e":46,"v":-1},{"c":179,"r":46,"e":47,"v":0.5},{"c":179,"r":47,"e":48,"v":-0.12},{"c":179,"r":48,"e":50,"v":-0.17},{"c":179,"r":50,"e":51,"v":-0.9},{"c":179,"r":51,"e":53,"v":-1},{"c":179,"r":53,"e":55,"v":-0.07},{"c":179,"r":55,"e":56,"v":1},{"c":179,"r":59,"e":60,"v":-0.15},{"c":179,"r":60,"e":61,"v":-0.45},{"c":179,"r":61,"e":62,"v":-1},{"c":179,"r":62,"e":63,"v":0.2},{"c":179,"r":63,"e":64,"v":-0.5},
{"c":182,"r":0,"e":1,"v":-1},{"c":182,"r":1,"e":2,"v":0.7},{"c":182,"r":2,"e":12,"v":-1},{"c":182,"r":12,"e":13,"v":-0.45},{"c":182,"r":13,"e":14,"v":-1},{"c":182,"r":14,"e":15,"v":-0.85},{"c":182,"r":15,"e":18,"v":-1},{"c":182,"r":18,"e":19,"v":0.75},{"c":182,"r":19,"e":20,"v":-1},{"c":182,"r":20,"e":21,"v":0.2},{"c":182,"r":21,"e":22,"v":0.35},{"c":182,"r":22,"e":30,"v":-1},{"c":182,"r":30,"e":31,"v":0.4},{"c":182,"r":31,"e":32,"v":-1},{"c":182,"r":32,"e":33,"v":-0.65},{"c":182,"r":33,"e":35,"v":-1},{"c":182,"r":35,"e":36,"v":0.65},{"c":182,"r":36,"e":37,"v":-1},{"c":182,"r":37,"e":38,"v":0.5},{"c":182,"r":38,"e":41,"v":-1},{"c":182,"r":41,"e":42,"v":-0.08},{"c":182,"r":42,"e":43,"v":-0.15},{"c":182,"r":43,"e":44,"v":-1},{"c":182,"r":44,"e":45,"v":-0.9},{"c":182,"r":45,"e":46,"v":-0.55},{"c":182,"r":46,"e":47,"v":-1},{"c":182,"r":47,"e":48,"v":-0.35},{"c":182,"r":48,"e":49,"v":-1},{"c":182,"r":49,"e":50,"v":-0.55},{"c":182,"r":50,"e":53,"v":-1},{"c":182,"r":53,"e":54,"v":-0.45},{"c":182,"r":54,"e":56,"v":-1},{"c":182,"r":59,"e":60,"v":-0.35},{"c":182,"r":61,"e":62,"v":-1},{"c":182,"r":62,"e":63,"v":-0.25},{"c":182,"r":63,"e":64,"v":1},
{"c":186,"r":0,"e":1,"v":0.75},{"c":186,"r":1,"e":7,"v":-1},{"c":186,"r":7,"e":8,"v":-0.5},{"c":186,"r":8,"e":9,"v":-1},{"c":186,"r":9,"e":10,"v":1},{"c":186,"r":10,"e":12,"v":-1},{"c":186,"r":12,"e":13,"v":-0.17},{"c":186,"r":13,"e":14,"v":0.4},{"c":186,"r":14,"e":15,"v":-0.2},{"c":186,"r":15,"e":16,"v":0.2},{"c":186,"r":16,"e":17,"v":-0.45},{"c":186,"r":17,"e":21,"v":-1},{"c":186,"r":21,"e":22,"v":0.2},{"c":186,"r":22,"e":23,"v":-1},{"c":186,"r":23,"e":24,"v":0.2},{"c":186,"r":24,"e":25,"v":-0.8},{"c":186,"r":25,"e":26,"v":-0.4},{"c":186,"r":26,"e":27,"v":1},{"c":186,"r":27,"e":29,"v":-1},{"c":186,"r":29,"e":30,"v":0.8},{"c":186,"r":30,"e":36,"v":-1},{"c":186,"r":36,"e":37,"v":-0.85},{"c":186,"r":37,"e":38,"v":-1},{"c":186,"r":38,"e":39,"v":-0.6},{"c":186,"r":39,"e":41,"v":-1},{"c":186,"r":41,"e":43,"v":1},{"c":186,"r":43,"e":47,"v":-1},{"c":186,"r":47,"e":48,"v":1},{"c":186,"r":48,"e":49,"v":0.65},{"c":186,"r":49,"e":50,"v":-0.12},{"c":186,"r":50,"e":51,"v":1},{"c":186,"r":51,"e":53,"v":0.35},{"c":186,"r":53,"e":54,"v":-0.75},{"c":186,"r":54,"e":55,"v":-1},{"c":186,"r":55,"e":56,"v":0.75},{"c":186,"r":59,"e":60,"v":0.2},{"c":186,"r":60,"e":61,"v":-0.85},{"c":186,"r":61,"e":64,"v":-1},
{"c":188,"r":0,"e":3,"v":-1},{"c":188,"r":3,"e":4,"v":-0.6},{"c":188,"r":4,"e":7,"v":-1},{"c":188,"r":7,"e":8,"v":1},{"c":188,"r":8,"e":9,"v":-0.85},{"c":188,"r":9,"e":10,"v":-0.55},{"c":188,"r":10,"e":26,"v":-1},{"c":188,"r":26,"e":27,"v":-0.25},{"c":188,"r":27,"e":28,"v":-0.7},{"c":188,"r":28,"e":29,"v":-1},{"c":188,"r":29,"e":30,"v":-0.85},{"c":188,"r":30,"e":35,"v":-1},{"c":188,"r":35,"e":36,"v":-0.55},{"c":188,"r":36,"e":38,"v":-1},{"c":188,"r":38,"e":39,"v":-0.7},{"c":188,"r":39,"e":41,"v":-1},{"c":188,"r":41,"e":42,"v":-0.9},{"c":188,"r":42,"e":43,"v":-0.8},{"c":188,"r":43,"e":44,"v":-0.85},{"c":188,"r":44,"e":45,"v":-0.4},{"c":188,"r":45,"e":46,"v":-1},{"c":188,"r":46,"e":47,"v":-0.35},{"c":188,"r":47,"e":48,"v":-0.4},{"c":188,"r":48,"e":51,"v":-1},{"c":188,"r":51,"e":52,"v":-0.25},{"c":188,"r":52,"e":54,"v":-1},{"c":188,"r":54,"e":55,"v":-0.35},{"c":188,"r":55,"e":56,"v":-1},{"c":188,"r":59,"e":60,"v":0.2},{"c":188,"r":60,"e":61,"v":0.02},{"c":188,"r":61,"e":62,"v":-1},{"c":188,"r":62,"e":63,"v":-0.5},{"c":188,"r":63,"e":64,"v":-1},
{"c":197,"r":0,"e":7,"v":-1},{"c":197,"r":7,"e":8,"v":-0.5},{"c":197,"r":8,"e":9,"v":-1},{"c":197,"r":9,"e":10,"v":-0.1},{"c":197,"r":10,"e":11,"v":0.7},{"c":197,"r":11,"e":12,"v":-1},{"c":197,"r":12,"e":13,"v":1},{"c":197,"r":13,"e":14,"v":-1},{"c":197,"r":14,"e":15,"v":-0.75},{"c":197,"r":15,"e":16,"v":0.01},{"c":197,"r":16,"e":17,"v":1},{"c":197,"r":17,"e":18,"v":-0.55},{"c":197,"r":18,"e":19,"v":-0.65},{"c":197,"r":19,"e":20,"v":0.22},{"c":197,"r":20,"e":21,"v":0.01},{"c":197,"r":21,"e":22,"v":0.2},{"c":197,"r":22,"e":23,"v":-0.3},{"c":197,"r":23,"e":24,"v":1},{"c":197,"r":24,"e":26,"v":-1},{"c":197,"r":26,"e":27,"v":-0.4},{"c":197,"r":27,"e":28,"v":0.3},{"c":197,"r":28,"e":29,"v":-1},{"c":197,"r":29,"e":30,"v":-0.8},{"c":197,"r":30,"e":31,"v":0.05},{"c":197,"r":31,"e":32,"v":-1},{"c":197,"r":32,"e":33,"v":1},{"c":197,"r":33,"e":35,"v":-1},{"c":197,"r":35,"e":36,"v":1},{"c":197,"r":36,"e":37,"v":-1},{"c":197,"r":37,"e":39,"v":0.4},{"c":197,"r":39,"e":42,"v":-1},{"c":197,"r":42,"e":43,"v":-0.9},{"c":197,"r":43,"e":46,"v":-1},{"c":197,"r":46,"e":47,"v":0.35},{"c":197,"r":47,"e":48,"v":0.75},{"c":197,"r":48,"e":49,"v":-1},{"c":197,"r":49,"e":52,"v":-0.6},{"c":197,"r":52,"e":55,"v":-1},{"c":197,"r":55,"e":56,"v":-0.4},{"c":197,"r":60,"e":61,"v":0.35},{"c":197,"r":62,"e":63,"v":0.7},{"c":197,"r":63,"e":64,"v":-0.3},
{"c":199,"r":0,"e":9,"v":-1},{"c":199,"r":10,"e":11,"v":-1},{"c":199,"r":11,"e":12,"v":1},{"c":199,"r":12,"e":13,"v":-1},{"c":199,"r":13,"e":14,"v":1},{"c":199,"r":14,"e":15,"v":-0.5},{"c":199,"r":15,"e":16,"v":-1},{"c":199,"r":16,"e":17,"v":-0.6},{"c":199,"r":17,"e":18,"v":-1},{"c":199,"r":18,"e":19,"v":-0.2},{"c":199,"r":19,"e":24,"v":-1},{"c":199,"r":24,"e":25,"v":0.8},{"c":199,"r":25,"e":28,"v":-1},{"c":199,"r":28,"e":29,"v":-0.08},{"c":199,"r":29,"e":30,"v":0.55},{"c":199,"r":30,"e":35,"v":-1},{"c":199,"r":36,"e":37,"v":-0.15},{"c":199,"r":37,"e":38,"v":-1},{"c":199,"r":38,"e":39,"v":1},{"c":199,"r":39,"e":46,"v":-1},{"c":199,"r":46,"e":47,"v":-0.2},{"c":199,"r":47,"e":48,"v":-1},{"c":199,"r":48,"e":49,"v":-0.6},{"c":199,"r":49,"e":50,"v":1},{"c":199,"r":50,"e":52,"v":-1},{"c":199,"r":52,"e":53,"v":-0.45},{"c":199,"r":53,"e":54,"v":-1},{"c":199,"r":54,"e":55,"v":-0.85},{"c":199,"r":55,"e":56,"v":-1},{"c":199,"r":59,"e":60,"v":-0.05},{"c":199,"r":60,"e":61,"v":0.3},{"c":199,"r":61,"e":62,"v":-1},{"c":199,"r":62,"e":63,"v":1},{"c":199,"r":63,"e":64,"v":-1},
{"c":213,"r":0,"e":11,"v":-1},{"c":213,"r":11,"e":12,"v":-0.1},{"c":213,"r":12,"e":15,"v":-1},{"c":213,"r":15,"e":16,"v":1},{"c":213,"r":16,"e":17,"v":-0.03},{"c":213,"r":17,"e":18,"v":-0.7},{"c":213,"r":18,"e":29,"v":-1},{"c":213,"r":30,"e":32,"v":-1},{"c":213,"r":32,"e":33,"v":0.4},{"c":213,"r":33,"e":34,"v":-1},{"c":213,"r":34,"e":35,"v":-0.3},{"c":213,"r":35,"e":45,"v":-1},{"c":213,"r":45,"e":46,"v":-0.8},{"c":213,"r":46,"e":53,"v":-1},{"c":213,"r":53,"e":54,"v":0.15},{"c":213,"r":54,"e":55,"v":-1},{"c":213,"r":59,"e":60,"v":0.02},{"c":213,"r":60,"e":61,"v":-0.05},{"c":213,"r":61,"e":62,"v":-1},{"c":213,"r":62,"e":63,"v":1},{"c":213,"r":63,"e":64,"v":-1},
{"c":223,"r":0,"e":2,"v":-1},{"c":223,"r":2,"e":3,"v":1},{"c":223,"r":3,"e":4,"v":-0.65},{"c":223,"r":4,"e":5,"v":-0.05},{"c":223,"r":5,"e":6,"v":-1},{"c":223,"r":6,"e":7,"v":0.75},{"c":223,"r":7,"e":9,"v":-1},{"c":223,"r":9,"e":10,"v":-0.6},{"c":223,"r":10,"e":12,"v":-1},{"c":223,"r":12,"e":13,"v":-0.1},{"c":223,"r":13,"e":14,"v":-1},{"c":223,"r":14,"e":15,"v":-0.1},{"c":223,"r":15,"e":16,"v":-1},{"c":223,"r":16,"e":17,"v":-0.6},{"c":223,"r":17,"e":18,"v":-1},{"c":223,"r":18,"e":19,"v":0.75},{"c":223,"r":19,"e":21,"v":-1},{"c":223,"r":21,"e":23,"v":1},{"c":223,"r":23,"e":25,"v":-1},{"c":223,"r":25,"e":26,"v":1},{"c":223,"r":26,"e":29,"v":-1},{"c":223,"r":30,"e":33,"v":-1},{"c":223,"r":33,"e":34,"v":0.12},{"c":223,"r":34,"e":35,"v":1},{"c":223,"r":35,"e":37,"v":-1},{"c":223,"r":37,"e":38,"v":1},{"c":223,"r":38,"e":39,"v":-0.65},{"c":223,"r":39,"e":43,"v":-1},{"c":223,"r":43,"e":44,"v":-0.2},{"c":223,"r":44,"e":45,"v":-0.5},{"c":223,"r":45,"e":46,"v":0.5},{"c":223,"r":46,"e":47,"v":-0.7},{"c":223,"r":47,"e":48,"v":-1},{"c":223,"r":48,"e":49,"v":0.5},{"c":223,"r":49,"e":52,"v":-1},{"c":223,"r":52,"e":53,"v":0.4},{"c":223,"r":53,"e":54,"v":-1},{"c":223,"r":54,"e":55,"v":-0.55},{"c":223,"r":59,"e":60,"v":-0.08},{"c":223,"r":60,"e":61,"v":-0.07},{"c":223,"r":61,"e":64,"v":1},
{"c":226,"r":0,"e":1,"v":-1},{"c":226,"r":1,"e":2,"v":-0.05},{"c":226,"r":2,"e":12,"v":-1},{"c":226,"r":12,"e":13,"v":-0.7},{"c":226,"r":13,"e":19,"v":-1},{"c":226,"r":19,"e":20,"v":-0.9},{"c":226,"r":20,"e":22,"v":-1},{"c":226,"r":22,"e":23,"v":-0.65},{"c":226,"r":23,"e":27,"v":-1},{"c":226,"r":27,"e":28,"v":-0.85},{"c":226,"r":28,"e":29,"v":0.07},{"c":226,"r":30,"e":31,"v":-0.35},{"c":226,"r":31,"e":32,"v":-1},{"c":226,"r":32,"e":33,"v":-0.65},{"c":226,"r":33,"e":34,"v":-1},{"c":226,"r":34,"e":35,"v":0.4},{"c":226,"r":35,"e":36,"v":-0.9},{"c":226,"r":36,"e":37,"v":-1},{"c":226,"r":37,"e":38,"v":-0.15},{"c":226,"r":38,"e":44,"v":-1},{"c":226,"r":44,"e":45,"v":0.15},{"c":226,"r":45,"e":46,"v":-1},{"c":226,"r":46,"e":47,"v":1},{"c":226,"r":47,"e":50,"v":-1},{"c":226,"r":50,"e":51,"v":1},{"c":226,"r":51,"e":55,"v":-1},{"c":226,"r":59,"e":60,"v":0.17},{"c":226,"r":60,"e":61,"v":0.01},{"c":226,"r":61,"e":63,"v":-1},{"c":226,"r":63,"e":64,"v":-0.65},
{"c":228,"r":0,"e":7,"v":-1},{"c":228,"r":7,"e":8,"v":1},{"c":228,"r":8,"e":9,"v":-0.85},{"c":228,"r":9,"e":12,"v":-1},{"c":228,"r":12,"e":13,"v":1},{"c":228,"r":13,"e":14,"v":-0.6},{"c":228,"r":14,"e":15,"v":-1},{"c":228,"r":15,"e":16,"v":-0.25},{"c":228,"r":16,"e":17,"v":-1},{"c":228,"r":17,"e":18,"v":1},{"c":228,"r":18,"e":21,"v":-1},{"c":228,"r":21,"e":22,"v":-0.05},{"c":228,"r":22,"e":23,"v":-1},{"c":228,"r":23,"e":24,"v":-0.3},{"c":228,"r":24,"e":25,"v":-0.8},{"c":228,"r":25,"e":26,"v":-0.17},{"c":228,"r":26,"e":27,"v":-1},{"c":228,"r":27,"e":28,"v":-0.6},{"c":228,"r":28,"e":29,"v":-1},{"c":228,"r":30,"e":35,"v":-1},{"c":228,"r":35,"e":36,"v":-0.7},{"c":228,"r":36,"e":44,"v":-1},{"c":228,"r":44,"e":45,"v":-0.3},{"c":228,"r":45,"e":47,"v":-1},{"c":228,"r":47,"e":48,"v":-0.7},{"c":228,"r":48,"e":49,"v":-1},{"c":228,"r":49,"e":50,"v":-0.8},{"c":228,"r":50,"e":51,"v":-0.85},{"c":228,"r":51,"e":52,"v":-0.5},{"c":228,"r":52,"e":53,"v":1},{"c":228,"r":53,"e":55,"v":-1},{"c":228,"r":59,"e":60,"v":0.2},{"c":228,"r":60,"e":61,"v":0.12},{"c":228,"r":61,"e":62,"v":-1},{"c":228,"r":62,"e":63,"v":1},{"c":228,"r":63,"e":64,"v":-0.8},
{"c":243,"r":0,"e":1,"v":-0.65},{"c":243,"r":1,"e":4,"v":-1},{"c":243,"r":4,"e":5,"v":-0.65},{"c":243,"r":5,"e":6,"v":0.75},{"c":243,"r":6,"e":7,"v":-0.5},{"c":243,"r":8,"e":12,"v":-1},{"c":243,"r":12,"e":13,"v":-0.7},{"c":243,"r":13,"e":14,"v":-1},{"c":243,"r":14,"e":15,"v":-0.45},{"c":243,"r":15,"e":16,"v":-1},{"c":243,"r":16,"e":17,"v":1},{"c":243,"r":17,"e":18,"v":0.3},{"c":243,"r":18,"e":20,"v":-1},{"c":243,"r":20,"e":22,"v":0.35},{"c":243,"r":23,"e":24,"v":-1},{"c":243,"r":24,"e":25,"v":-0.9},{"c":243,"r":25,"e":26,"v":-0.85},{"c":243,"r":26,"e":29,"v":-1},{"c":243,"r":30,"e":31,"v":-1},{"c":243,"r":31,"e":32,"v":0.45},{"c":243,"r":32,"e":33,"v":-0.4},{"c":243,"r":33,"e":34,"v":-0.85},{"c":243,"r":34,"e":35,"v":-1},{"c":243,"r":35,"e":36,"v":1},{"c":243,"r":36,"e":37,"v":-1},{"c":243,"r":37,"e":38,"v":0.5},{"c":243,"r":38,"e":39,"v":-1},{"c":243,"r":39,"e":40,"v":1},{"c":243,"r":40,"e":41,"v":-0.8},{"c":243,"r":41,"e":42,"v":-0.85},{"c":243,"r":42,"e":43,"v":-0.1},{"c":243,"r":43,"e":46,"v":-1},{"c":243,"r":46,"e":47,"v":-0.2},{"c":243,"r":47,"e":48,"v":0.15},{"c":243,"r":48,"e":50,"v":-1},{"c":243,"r":50,"e":51,"v":-0.7},{"c":243,"r":51,"e":52,"v":-0.2},{"c":243,"r":52,"e":53,"v":-0.6},{"c":243,"r":53,"e":55,"v":-0.75},{"c":243,"r":59,"e":60,"v":-0.06},{"c":243,"r":60,"e":61,"v":-0.17},{"c":243,"r":61,"e":62,"v":0.7},{"c":243,"r":62,"e":64,"v":1}
]},
"mark":{"type":"rect","width":4,"strokeWidth":0},
"encoding":{
"x":{"field":"c","type":"quantitative","scale":{"domain":[-0.38,252.62],"nice":false,"zero":false,"round":true},"axis":null},
"y":{"field":"r","type":"quantitative","scale":{"domain":[0.02,64.02],"reverse":true,"nice":false,"zero":false,"round":true},"axis":{"title":null,"labels":false,"ticks":false,"grid":false,"domain":true,"domainColor":"black","domainWidth":1}},
"y2":{"field":"e"},
"color":{"field":"v","type":"quantitative","scale":{"domain":[-1,0,1],"range":["#0000ff","#ffffff","#ff0000"],"interpolate":"rgb"},"legend":null}
}}
